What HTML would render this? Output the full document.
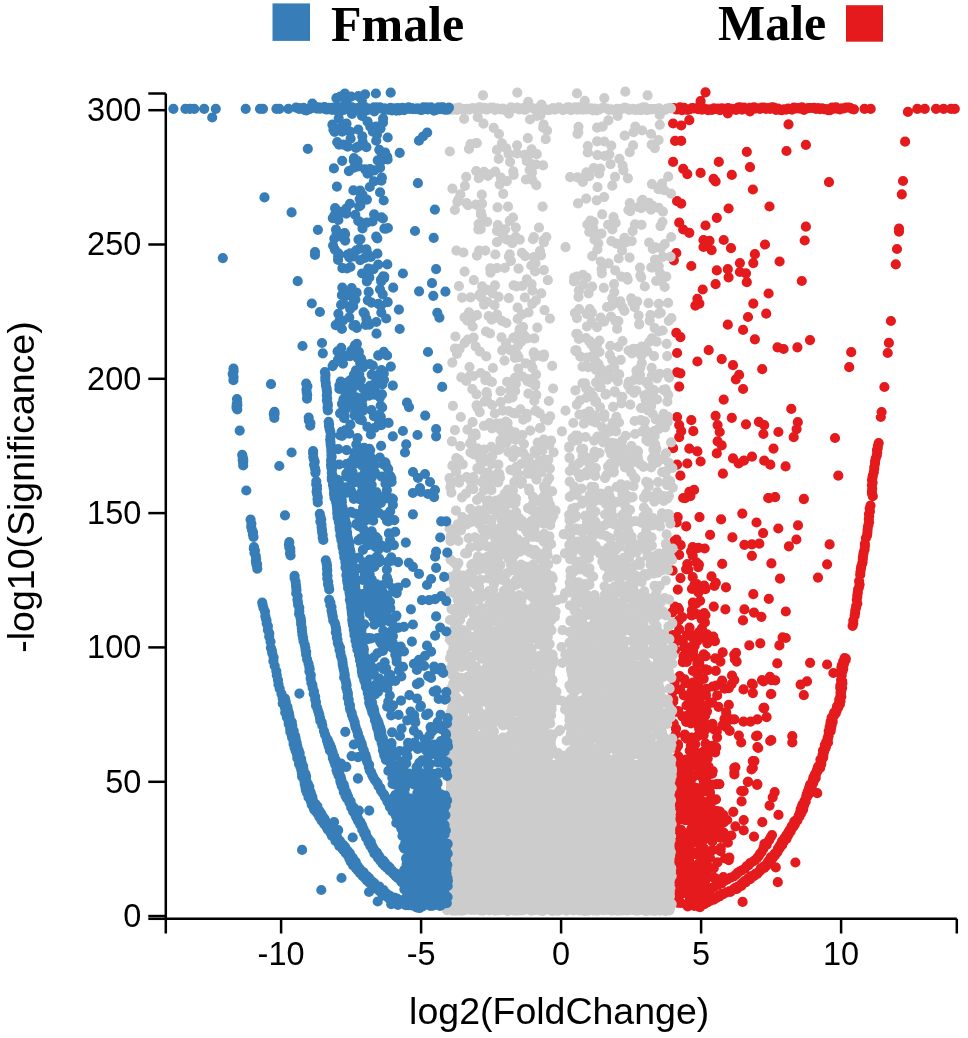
<!DOCTYPE html>
<html><head><meta charset="utf-8"><style>
html,body{margin:0;padding:0;background:#fff;}
svg{display:block;will-change:transform;}
.t{font-family:"Liberation Sans",sans-serif;font-size:32.5px;fill:#000;}
.tt{font-family:"Liberation Sans",sans-serif;font-size:37.5px;fill:#000;}
.lg{font-family:"Liberation Serif",serif;font-size:50px;font-weight:bold;fill:#000;}
</style></head><body>
<svg width="968" height="1038" viewBox="0 0 968 1038">
<path d="M674 108h0M676 109.4h0M678 109.3h0M680 107.3h0M682 110.1h0M684 107.9h0M686 109.6h0M688 109.9h0M690 109.1h0M692 108h0M694 108.4h0M696 108.5h0M698 109.2h0M700 109.2h0M702 109.6h0M704 108.7h0M706 109.1h0M708 110.1h0M710 109.3h0M712 110h0M714 108.3h0M716 109h0M718 108.7h0M720 110.2h0M722 108.4h0M724 109.3h0M726 108.5h0M728 108.2h0M730 108.7h0M732 109.4h0M734 109.2h0M736 109.8h0M738 107.6h0M740 107.3h0M742 109.6h0M744 107.6h0M746 109h0M748 109.1h0M750 107.8h0M752 109.4h0M754 107.3h0M756 108.5h0M758 108.4h0M760 108.8h0M762 107.5h0M764 107.6h0M766 108.9h0M768 108h0M770 108.9h0M772 107.4h0M774 107.6h0M776 109.9h0M778 108.5h0M780 109.8h0M782 110.2h0M784 109.4h0M786 109.6h0M788 108.7h0M790 109.2h0M792 109.7h0M794 107.6h0M796 108.5h0M798 108.2h0M800 108.7h0M802 107.4h0M804 109.8h0M806 108.6h0M808 108.2h0M810 108h0M812 108h0M814 107.9h0M816 108.8h0M818 108h0M820 109.1h0M822 108.3h0M824 109.1h0M826 109h0M828 110.2h0M830 110.1h0M832 107.5h0M834 108.6h0M836 107.3h0M838 108.9h0M840 109.3h0M842 108.3h0M844 108.3h0M846 107.6h0M848 107.5h0M850 107.9h0M852 109h0M854 109.3h0M864.5 108.8h0M870.7 108.8h0M917.3 108.8h0M924.8 108.8h0M936 108.8h0M943.6 108.8h0M951 108.8h0M954.8 108.8h0M907.9 111.9h0M699.1 906.9h0M700.4 905h0M703.4 904.1h0M705.7 901.8h0M708.8 900.6h0M711.9 898.1h0M715.3 897.1h0M719.2 895h0M722.4 893.8h0M726.6 892.3h0M729.7 891.2h0M733.6 889.1h0M735.7 887.7h0M737.9 886.7h0M740.4 885.7h0M741.4 883.9h0M743.3 883.4h0M744.5 881.2h0M746 880.6h0M748 878.5h0M750.6 876.3h0M752.8 875.6h0M755.7 873.5h0M758.9 871.5h0M760.7 868.7h0M762.8 867.2h0M765.4 865.4h0M767.7 862.4h0M769 860.3h0M770.9 857.2h0M773.6 855.5h0M774.7 853.5h0M776.9 851.6h0M777.8 848.8h0M779.4 846.4h0M780.5 844.6h0M782.1 841h0M784.4 838.2h0M786.3 835.3h0M788 832.8h0M788.7 831.6h0M790.1 829.3h0M791.8 826.1h0M793.7 824.2h0M794.2 821.6h0M796.2 820.2h0M798.6 815.8h0M800 812.7h0M800.7 811.2h0M800.7 809h0M801.8 806.5h0M802.4 804.7h0M804.4 801h0M806.2 796.7h0M806.7 794.4h0M807.7 791.6h0M808.9 788.4h0M810.1 784.7h0M812.3 782.1h0M812.9 779.5h0M813.5 777h0M815 774h0M816.9 770.2h0M818 768.6h0M817.7 767.7h0M818 766.8h0M818.2 766.6h0M818.8 766.6h0M820 764.3h0M820.4 759.6h0M822.2 757h0M822.6 754.7h0M823 750.6h0M824.9 747.9h0M824.8 745h0M826.2 742.1h0M827.6 738.2h0M828.3 735.8h0M828.7 731.1h0M829.6 727.1h0M830.3 724.9h0M830.4 723.7h0M830.7 721.4h0M831.9 719.2h0M831.6 717.5h0M833.2 715.5h0M834.1 712.7h0M836.4 709.7h0M837 706.4h0M838.8 703.3h0M839.2 699.6h0M840.4 696.2h0M840.5 692.5h0M840.8 690h0M840.2 687.8h0M840.3 685.5h0M841.2 682.6h0M841.1 679.9h0M841.4 674.9h0M841.2 670.5h0M841.4 667.6h0M841.9 665.2h0M843.2 663.3h0M843.2 661.3h0M844.6 659.4h0M844.6 658.1h0M700 907.1h0M701.7 905.4h0M704.3 904.1h0M707.4 902.3h0M710.1 901h0M713.8 899.6h0M716.7 897.9h0M719.6 896.3h0M723.2 894.2h0M726.9 892.2h0M730.4 891.9h0M733.8 889.4h0M736.9 889h0M739.7 886.6h0M741.3 885.9h0M742.2 884.3h0M743.9 882.9h0M745.6 882.5h0M747.6 880.1h0M750.1 879.2h0M752.4 877h0M754.2 876h0M757.3 873.8h0M759.5 871.4h0M761.5 869.4h0M764.4 867.8h0M766.3 865.8h0M768.6 862.5h0M771 860.7h0M772.8 857.9h0M774.6 855.7h0M776.3 853.3h0M777.3 852.2h0M778.6 849.6h0M780.2 847.3h0M782.2 844.9h0M783.6 841.9h0M786.5 838.8h0M787.8 835.8h0M788.7 834.2h0M790.6 831.4h0M791.5 829.1h0M793.4 826.7h0M794.8 824.5h0M795.4 822.7h0M797.4 820.4h0M799.5 816.4h0M800.9 813.7h0M802.1 811.2h0M803.1 809.6h0M803.5 807h0M804.3 804.5h0M805.7 801.6h0M807 797h0M808.6 794.3h0M809.8 791.5h0M810 788.7h0M811.8 786.1h0M813.2 782.9h0M814.5 779.7h0M815.7 778h0M815.8 775.2h0M817.6 771h0M818.7 768.3h0M819.4 767.8h0M819.9 767.6h0M820.1 768h0M819.5 767.4h0M821.3 764.1h0M821.6 760.3h0M823.2 757.6h0M823.4 755h0M824.2 751.3h0M825.6 748h0M826.2 745.5h0M828 742.5h0M827.9 738.9h0M828.6 736h0M830.6 731.2h0M831 728.6h0M831.6 725.5h0M831.7 723.6h0M832.6 722h0M832.6 720.9h0M832.7 717.5h0M834.2 715.3h0M835.8 713.2h0M836.7 710.5h0M838.3 707.3h0M839.9 704.2h0M840.5 701h0M841.3 696.5h0M841 694.1h0M841.3 691h0M842.1 687.9h0M841.7 686h0M842.4 683.2h0M842.2 681.1h0M841.7 675.6h0M842.4 671.6h0M843.2 668.9h0M843.5 665.3h0M844 663.6h0M844.6 661.5h0M845.6 660h0M845.8 658.7h0M852.6 625.8h0M853.3 623.4h0M853.3 620.5h0M854.7 615.7h0M855.1 613h0M855.3 610.3h0M856 607.8h0M856.2 605.9h0M857.3 603.5h0M856.8 599.8h0M857.3 597.1h0M857.3 595.4h0M857.8 592.4h0M858.1 589.3h0M858.9 587.5h0M859.6 584.6h0M859.1 581.2h0M860.2 574.7h0M860.4 572.2h0M860.9 568.7h0M861.2 566.7h0M862.2 563.5h0M862.6 562.1h0M862.8 559h0M862.9 557h0M863.3 554.3h0M863.8 551.8h0M864.6 549.3h0M864.9 545.9h0M864.9 543.9h0M865.9 538h0M867 535.4h0M867.4 532.8h0M867.6 529.8h0M867.9 526.8h0M868.4 524.9h0M869.1 522.2h0M868.8 519.2h0M869.2 516.3h0M869 514h0M869.9 511.4h0M869.7 508.4h0M870.5 505.5h0M872.8 496.2h0M872 493.4h0M871.9 491.3h0M872.2 488.5h0M871.9 485.2h0M872.6 482.6h0M872 480.1h0M872.5 477.4h0M872.9 475.4h0M873.8 472.2h0M874.2 469.1h0M874.3 467h0M875 463.4h0M875.1 461.2h0M875.7 458.6h0M876.8 455.3h0M877.2 452.6h0M877 449.9h0M877.7 448.2h0M877.9 445.9h0M878.7 443h0M698.4 896.5h0M700 894h0M702.4 893.6h0M704.6 892.2h0M707.7 890.2h0M710.3 888.8h0M712.3 887.7h0M715 886h0M718 884.9h0M720.4 883.4h0M721.6 883.3h0M724.5 880.8h0M727.1 879.7h0M728.9 878.5h0M730.8 877.7h0M733.7 876.4h0M736 874.7h0M737.6 872.9h0M739.6 871.5h0M741.8 870.4h0M744.8 868.5h0M746.5 866.4h0M748.6 865.1h0M750.1 863.2h0M753.1 861.5h0M755.1 860.1h0M757 858.2h0M758.6 856.2h0M760.1 853.7h0M761.5 852h0M763.2 849h0M763.9 846.8h0M766.6 845h0M767.1 843.1h0M769.3 839.8h0M770.8 837h0M772 835h0M705.5 92.3h0M700.6 101.2h0M673.1 123.5h0M681.2 125.5h0M689.3 120.2h0M727.8 113.3h0M750 111.3h0M788.5 124.3h0M675.1 140.9h0M681.2 140.9h0M786.5 151h0M805.9 144.9h0M905.1 141.7h0M746.8 151.8h0M673.1 161.9h0M718.8 161.9h0M750 167.2h0M683.2 168.8h0M687.3 174.1h0M700.6 172.9h0M713.6 178.9h0M715.6 181.4h0M731.8 174.9h0M829 182.2h0M903 181h0M752.9 189.5h0M901.8 194.3h0M677.1 201.2h0M681.2 203.6h0M769.5 206.5h0M728.6 208.5h0M716.8 217.8h0M705.5 225.5h0M679.2 222.7h0M683.2 229.5h0M689.3 232.8h0M805.9 226.7h0M804.7 240.5h0M899 228.7h0M899 231.6h0M703.5 240h0M709.5 240.9h0M703.5 247h0M711.6 250.2h0M723.7 240h0M731 248.2h0M765 244.5h0M897 249h0M676.3 253h0M673.9 260.3h0M754.9 254.2h0M739.9 263.1h0M753.3 263.1h0M779.6 261.5h0M895.8 264.4h0M691.3 266h0M716.8 270.4h0M727.8 269.2h0M728.6 277.3h0M739.9 272h0M746 273.3h0M746.8 282.2h0M715.6 284.2h0M801.8 281h0M702.7 289.5h0M697.4 298.8h0M695.4 305.6h0M699.4 303.6h0M768.6 293.5h0M753.3 303.6h0M766.2 313.7h0M748 317h0M727.8 324.7h0M743.1 329.9h0M754.9 339.3h0M890.9 321h0M676.3 332.8h0M680.4 337.2h0M777.5 347.3h0M783.6 349h0M797.4 347.3h0M810 340.1h0M888.9 342.9h0M887.7 353h0M851.2 352.2h0M849.2 367.2h0M677.1 353h0M708.7 350.2h0M697.4 361.5h0M721.7 359.1h0M733 365.2h0M739.1 374.9h0M735.9 379.3h0M743.1 389h0M762.2 369.2h0M677.1 372.4h0M680.4 373.3h0M679.2 386.6h0M723.7 399.6h0M884.4 387h0M791.3 408.9h0M881.6 412.1h0M880.8 417h0M677.1 417h0M679.2 425.1h0M681.2 431.2h0M679.2 437.2h0M691.3 420.2h0M693.3 431.2h0M715.6 415.8h0M717.6 425.1h0M719.7 432h0M717.6 441.3h0M721.7 445.3h0M731.8 417.8h0M746 424.3h0M758.9 421.8h0M764.2 425.1h0M763.4 434h0M778.4 432h0M797.8 422.2h0M796.6 429.1h0M793.7 437.2h0M773.5 448.6h0M835 438h0M673.1 448.2h0M689.3 448.6h0M697.4 451.4h0M677.1 464.7h0M687.3 463.5h0M700.6 461.5h0M716.8 453.4h0M733 458.3h0M738.7 463.5h0M743.9 460.7h0M752 456.7h0M764.2 460.7h0M770.3 464.7h0M785.6 466.4h0M680.4 475.7h0M722.9 473.7h0M838.3 475.7h0M683.2 498h0M689.3 491.9h0M694.1 489.9h0M768.2 498h0M775.1 497.2h0M803.9 498.8h0M685.1 498.2h0M690.4 496.1h0M768.8 498.2h0M775.2 497.1h0M803.8 499.2h0M742.3 513.6h0M699.5 517.2h0M721.1 519.4h0M677.7 517.2h0M676.7 522.5h0M686.2 526.4h0M756.5 522.5h0M763.1 533.1h0M778.3 528.5h0M798 525.3h0M710.1 534.8h0M732.4 537.4h0M796.4 539.5h0M744.4 544.8h0M751.9 544.4h0M759.3 543.7h0M788.9 546.3h0M829.6 544.4h0M674.5 541.2h0M751.9 555.8h0M722.2 563.9h0M771.4 563.4h0M827.1 564.3h0M780 578.7h0M818 577.6h0M715.8 582.9h0M726 587.4h0M753.3 594.2h0M768.8 598.8h0M725.4 609.4h0M744.4 609.4h0M754 612.6h0M761.4 616.8h0M743 620.4h0M785.8 611.5h0M713.3 636.5h0M782.6 637.4h0M785.8 638h0M779.4 645.4h0M749.3 645.4h0M760.3 643.3h0M694.7 645.8h0M777.3 663.4h0M810.1 662.8h0M827.1 664.5h0M833.4 673h0M736 652.8h0M734.9 659.2h0M800.6 684.6h0M807 681.4h0M803.8 695.2h0M770.9 694.2h0M751.9 683.6h0M752.9 693.1h0M763.5 681.4h0M769.9 676.8h0M775.2 680.4h0M763.5 707.9h0M734.3 654.7h0M736.6 661.6h0M732 675.5h0M734.3 680.1h0M743.5 689.4h0M752.8 684.7h0M762 680.1h0M771.3 680.1h0M771.3 694h0M764.3 707.8h0M766.6 717.1h0M757.4 719.4h0M750.5 721.7h0M743.5 721.7h0M734.3 719.4h0M727.4 719.4h0M729.7 730.9h0M738.9 735.6h0M741.2 742.5h0M757.4 735.6h0M771.3 740.2h0M757.4 747.1h0M752.8 761h0M752.8 767.9h0M748.2 781.8h0M757.4 784.1h0M741.2 791h0M734.3 767.9h0M734.3 772.5h0M722.7 652.4h0M720.4 661.6h0M715.8 670.9h0M764 708.3h0M756.1 736.2h0M770.2 741h0M792.3 736.2h0M792.3 742.4h0M758.2 748h0M754.4 761.1h0M751.5 769.4h0M735.4 767.3h0M734.4 774.5h0M747.8 781.8h0M757.1 784.9h0M774.7 792.1h0M772.7 797.3h0M769.6 805.6h0M778.5 814.9h0M817.2 793.2h0M743.7 791.1h0M741.6 801.4h0M733.3 811.8h0M762.3 822.2h0M743.7 820.1h0M735.4 826.3h0M743.7 830.4h0M754 836.6h0M764.4 843.9h0M795.4 862.5h0M775.8 867.3h0M777.8 882.2h0M742.6 901.9h0M676.5 539.7h0M678.1 544.4h0M680.7 545.2h0M692.6 547h0M698.4 547.8h0M704.7 548.5h0M679.2 554.8h0M691.1 551.4h0M692.7 555.7h0M696.4 562.4h0M687.3 564.1h0M698.9 564.7h0M672.6 570.7h0M686.1 569.1h0M688.3 569.5h0M698.3 567.1h0M680.5 578.1h0M692.7 577.2h0M711.5 576.4h0M694.4 584.8h0M695.6 584.6h0M696.8 584h0M704.2 585.5h0M714.4 585.9h0M677.8 589.6h0M692 588.9h0M697.1 590.2h0M705.4 589.1h0M698.5 592.5h0M692.9 602.5h0M700.1 600.8h0M674.9 606.7h0M693.1 603.8h0M696.4 603.5h0M713.8 606.6h0M679 609.7h0M678.1 607.8h0M691.9 610.2h0M672.2 612.3h0M693.7 611.9h0M697.6 614.3h0M704.2 613h0M682.2 617.1h0M691.6 615.4h0M705.5 615h0M679 620.1h0M701.7 619.2h0M704.9 622.4h0M679.2 629.4h0M689.5 627.7h0M701.9 628.3h0M689 633.2h0M697.2 634.3h0M699.1 632.1h0M699.1 632.2h0M700.8 632.5h0M707 634.3h0M672.3 635.1h0M678.2 638.8h0M687 635.2h0M689 635.7h0M693.1 637.3h0M694 638h0M703.2 637.4h0M706.1 635.1h0M682.8 641.7h0M694.3 642.3h0M697.4 641h0M714.9 641.2h0M673.8 644.1h0M707.3 643.3h0M675 650.2h0M684.3 647.8h0M686.7 647.3h0M686.5 652.7h0M685.5 653.9h0M693.1 651.3h0M703.7 654.3h0M683.5 656.1h0M694.5 657.1h0M705.7 656.1h0M715.3 658.4h0M682.9 662.2h0M682.9 661.7h0M686.8 661.8h0M699.3 662.5h0M697.3 663.9h0M692.9 670.9h0M707.7 670.2h0M705.5 669.3h0M697.8 672.5h0M697 673.6h0M679.7 676h0M703.7 678.8h0M674.8 681.6h0M684.6 679.4h0M693.1 682.6h0M699.6 680.9h0M722.1 680.6h0M674.6 686.9h0M685.5 683h0M688.7 683.6h0M698.5 683.6h0M712.8 686.5h0M716.4 685.5h0M731.6 684.1h0M680.1 689.7h0M697.5 687.6h0M706.5 688.9h0M706.6 689.1h0M724.6 688.7h0M728.8 688.2h0M672.6 691.8h0M691.9 691.6h0M689.6 694.4h0M691.5 691.7h0M698.9 692h0M698.9 692.6h0M683.9 695.4h0M689.4 699h0M693.7 695h0M701.7 695.5h0M706 695.2h0M717.2 695.4h0M673.2 701.7h0M673.4 699.4h0M692.3 700.5h0M692.8 700.3h0M699.3 699.1h0M712 702.6h0M710.3 702.6h0M686.5 705.5h0M697.7 706.3h0M703.6 705.2h0M702 705.9h0M718.5 706.8h0M728.8 704.9h0M672.3 708.6h0M691.7 710.7h0M701.1 708.6h0M675.9 711.9h0M678.3 711.2h0M700.1 713h0M702.3 712.3h0M707 711.3h0M726.2 712.4h0M682.3 716.3h0M684.5 716.4h0M688.3 715.3h0M695.3 715.9h0M692.2 717.1h0M696.4 715.8h0M705.2 715.6h0M724.5 718.9h0M686.1 721.8h0M686.2 719.9h0M700.9 720.6h0M703.7 720h0M731.4 719.4h0M673.7 723.6h0M691 723.3h0M699.7 725.9h0M698.7 726h0M698.8 725.3h0M696.8 723.5h0M708.4 726.5h0M712.5 723.9h0M722.7 725.1h0M676 728.7h0M699.2 729h0M705.3 729.8h0M714.1 729.5h0M726.3 727.2h0M675.6 734.5h0M684.8 734.6h0M701.2 734.5h0M716.8 731.4h0M687.1 738.9h0M685.3 737.1h0M691.5 737.6h0M697.7 736.2h0M698.4 735.6h0M703.6 735.2h0M717.1 737.3h0M672.9 743.9h0M678 745.7h0M678 744.3h0M690.8 745.8h0M695.2 744.2h0M705.6 743.7h0M712.4 745.9h0M672.1 747.5h0M676.7 747.8h0M689.7 750.5h0M693.3 747.2h0M716.2 747.4h0M694.4 754.3h0M693.8 752.2h0M700.5 753.1h0M703.2 751.8h0M703 754.9h0M703.8 753.6h0M708.6 751.9h0M715.2 752.3h0M678.4 756.4h0M691.3 756.8h0M694.8 758.8h0M695 756.1h0M707.3 755.8h0M707.7 758.6h0M673 760.5h0M674.8 759.4h0M672.9 760.2h0M679.2 759.5h0M677.3 761.6h0M679.1 762.4h0M680.6 761.1h0M686.3 759.7h0M703.4 759.6h0M702.8 760.1h0M680.6 765.2h0M687.9 766.4h0M687.5 763.6h0M692.7 764.9h0M700.7 766.5h0M708.6 766.7h0M672.8 767.1h0M681.9 770.7h0M680.3 768.5h0M687.1 769.1h0M697.9 767.8h0M701.8 768.9h0M700.3 769h0M707.4 768.6h0M677.1 771.6h0M681.6 773.9h0M683.8 771.9h0M683.1 773.7h0M684.5 772.1h0M688.7 771.8h0M702.3 771.7h0M712.1 773.6h0M712.7 771h0M679.6 775.2h0M681 775.4h0M683.8 776.1h0M683.8 777.1h0M687.3 777.9h0M691.6 777.2h0M693.8 776.4h0M701.8 776.2h0M702.4 777.6h0M705.9 778.8h0M707.5 775.6h0M690.7 781h0M703.9 782.5h0M705.2 779.7h0M677.6 783.4h0M687.8 785.7h0M684.7 783.2h0M689.7 783.8h0M708 784.9h0M712.9 784.7h0M719.4 784.1h0M716.8 784.2h0M672.8 790.8h0M673.8 790.8h0M677.7 787.1h0M680.9 787.1h0M689.1 789.8h0M688.5 789.5h0M695.7 787.8h0M695.5 788.8h0M702.5 787.8h0M700.8 788h0M707.1 789h0M705.2 789.2h0M675 793.9h0M673.8 794.1h0M681.5 794.5h0M684.1 791.1h0M684 793h0M692.9 791.4h0M696.3 792.3h0M696.9 791.7h0M700.5 793h0M705.5 791.4h0M710 792.4h0M675.2 798.2h0M681.9 798.1h0M687.8 795.1h0M694.2 797.2h0M696.5 798.9h0M672.5 802.7h0M674.9 801.2h0M679.5 802h0M681.7 802.4h0M690.1 799.2h0M699.6 800h0M696.4 799.2h0M698 799.1h0M702.1 801.4h0M707.7 802.4h0M708.2 802h0M709.2 800.8h0M714.3 800.1h0M716 799.3h0M683 803.9h0M684.2 806.2h0M687.6 806.9h0M689.8 806.1h0M704 805.9h0M677.5 810h0M679.7 810.8h0M680 810.6h0M687.4 807.7h0M688.4 808.6h0M695.1 808.9h0M697.2 807.4h0M712.2 809.5h0M713.1 810.1h0M672.3 814.6h0M680.9 813.3h0M681.4 813.8h0M690.4 814.1h0M693.8 814.5h0M695.2 813.8h0M694.1 811.2h0M703.6 812.4h0M705.3 814.4h0M708 813.5h0M717 811.2h0M719.9 811.5h0M673.3 817.1h0M673.2 818.1h0M678.1 817.2h0M677.6 816.4h0M689.2 818.6h0M696.2 816.9h0M702.7 817.1h0M700.2 817.8h0M712.7 817.8h0M718.7 815.5h0M723.5 815h0M673.8 822.4h0M680.8 819.3h0M685.2 820.2h0M691.8 822.7h0M701.1 821h0M707.4 819.3h0M723.8 822.4h0M727.2 820h0M675.1 825h0M692.8 825.9h0M701.7 826.4h0M703.2 825.8h0M713.2 825.5h0M714.1 825h0M712.3 825.8h0M716.8 824.2h0M681.1 829.9h0M691.4 828.5h0M699.1 830.1h0M696.2 829.5h0M707.3 830.4h0M717.7 829.4h0M719.7 827.9h0M680 831.7h0M684.5 833.9h0M689.8 833.6h0M690.4 834.1h0M688.8 832.5h0M695.7 834.5h0M693.5 831.9h0M700.7 831h0M706 833.3h0M715.2 833.1h0M723.7 832.5h0M675.7 837.3h0M679.8 838.8h0M679.1 836.8h0M680.5 835.1h0M687.9 838.6h0M687.8 836h0M691.1 835.5h0M695.8 837.7h0M695.4 837.9h0M693.8 837.9h0M698.2 838.2h0M696.1 839h0M698.3 837.6h0M697.7 836.8h0M702 835.3h0M708 838.3h0M720.8 837.9h0M724.3 837.2h0M731.4 835.5h0M679 841.5h0M682.7 839.1h0M682.7 839.9h0M681.2 841.2h0M687.2 842.9h0M692 840.3h0M688.6 840.4h0M689.2 842.3h0M690.6 839.1h0M694.6 841.1h0M692.9 842.4h0M698.6 841.6h0M712.3 841.4h0M727.8 842.7h0M673.1 846h0M676.8 843.3h0M682.1 843.3h0M700.3 846.3h0M701.8 843.3h0M673.1 847.2h0M681.6 848.2h0M682.1 848.3h0M686.6 849.6h0M686.5 847.1h0M684.7 850.6h0M690.3 850.6h0M702.7 849.3h0M704.1 848.5h0M712.5 850.1h0M720.7 848.7h0M720.5 848.2h0M678.8 854.3h0M676.4 853.3h0M680.9 851.5h0M687.7 853.7h0M692.4 852.1h0M696.3 854.4h0M698.3 851.6h0M701.7 852.4h0M701.2 851.9h0M703.8 853h0M706.4 853.6h0M708.4 854.8h0M720.5 851.2h0M673.7 857.6h0M685.2 855.4h0M702.2 855.5h0M700.3 856.3h0M706.2 856.1h0M705.3 856h0M710 857.9h0M725.1 858.3h0M726.2 858.6h0M729.4 857.5h0M675.5 860.3h0M680.6 860.8h0M681 861.2h0M685.9 859h0M685.1 862.2h0M687.3 861.5h0M689 859.4h0M705 861.2h0M717.5 862.3h0M728.8 860.2h0M677.3 864.2h0M681.7 864.9h0M686.7 864.8h0M689.5 864.1h0M689.7 863.1h0M690.4 866.6h0M697.4 864.7h0M702.7 866.9h0M707.8 866h0M680.4 868.8h0M680.7 871h0M682 868.9h0M684 868.4h0M708 869.5h0M705.7 869.4h0M713.8 868.1h0M675.9 874.8h0M673.1 871.5h0M674.1 872.6h0M676.3 873h0M676.8 874.7h0M680 871.8h0M694.1 873.6h0M701.6 872.7h0M703.9 873h0M706.5 874.9h0M677.9 875.4h0M678.2 878h0M686.4 875.4h0M687.3 876.4h0M688.3 878.4h0M690.8 878.4h0M702.2 877.6h0M702.1 878.9h0M713.9 877.6h0M715.9 878.6h0M723.4 877.1h0M674.2 882.7h0M684.1 882.4h0M687.3 881.3h0M685.4 880.6h0M691.5 880.1h0M695.7 880.2h0M698.7 881.8h0M703.7 879.3h0M705.5 880.2h0M679.4 884.5h0M676.1 886.1h0M681.3 884.7h0M680.4 885.3h0M686 884.2h0M691.5 886.5h0M695.5 885.3h0M700.1 883.3h0M680.6 890.9h0M685.3 887.3h0M686.1 888.3h0M689.8 889.1h0M690.2 890.9h0M690.6 888.6h0M696.6 889h0M703.9 887.6h0M683 893.3h0M687.6 893.6h0M694.9 892.1h0M698.7 894.8h0M698.3 894h0M701.1 893.5h0M672.7 895.4h0M679 896.3h0M678 895.5h0M678.8 895.2h0M691.3 898.9h0M694.1 896.6h0M694.4 896.4h0M694.9 898.4h0M698.5 895.5h0M677.5 902.7h0M680.4 902.9h0M680.4 902.6h0M691.2 902.7h0M690 899h0M696 902.7h0M694.8 899.9h0M693.6 902.8h0M686 904.3h0M687.7 906.5h0M694.2 906h0" stroke="#e41a1c" stroke-width="10.2" stroke-linecap="round" fill="none"/>
<rect x="446" y="760" width="225" height="151" fill="#cccccc"/>
<path d="M508.9 113.6h0M537 115.8h0M540.5 115.1h0M617.7 115.9h0M660.1 113.5h0M659.7 115h0M464.1 118.8h0M477.7 117.2h0M530 119.5h0M483.5 123.7h0M608.4 120.4h0M493.7 127.8h0M543.2 127.7h0M543.6 124.6h0M543.9 127.4h0M578.5 126.8h0M597.1 127.7h0M602.6 126.7h0M635.3 126.5h0M659.8 124.8h0M547.1 130.6h0M642.2 130.5h0M499 134h0M578.3 132.1h0M577.5 133.8h0M624.7 135.7h0M633.6 132.1h0M651.1 134h0M527.8 138.1h0M545.7 139.2h0M476.8 143.2h0M476.2 143.2h0M502 143.3h0M597.1 141.4h0M604.3 141.5h0M658.6 140.1h0M470.5 144h0M517.1 145.3h0M587.8 146.1h0M611.3 145.7h0M633.1 145.4h0M651.7 144.6h0M449.8 151.5h0M469 148.9h0M496.9 149.9h0M506.3 148.4h0M531.6 149.4h0M654.8 148.1h0M508.6 153.9h0M516.9 153.4h0M524.7 154.9h0M528.3 155.7h0M536.8 154.2h0M587.8 152.5h0M597.4 155.2h0M609.4 154.3h0M629.7 152.2h0M498.7 158.9h0M604.6 156h0M619.4 158.9h0M510.1 161.9h0M526.8 161.2h0M532.7 164.3h0M536.2 164.5h0M543.1 165.4h0M610.5 164.2h0M622.7 165.7h0M476.2 171.1h0M484 171.9h0M495.2 171.6h0M513.2 171.3h0M529.6 170h0M593.7 168.2h0M600.3 168.6h0M623.4 170.3h0M488 175.8h0M489.2 174.4h0M513.7 174.9h0M532 172.4h0M586.5 172.3h0M585.7 175.4h0M599.2 173.7h0M466.2 176.8h0M478.8 178.2h0M500.9 177.7h0M525.9 179.5h0M532.3 179.9h0M570.1 177.1h0M577.4 177.3h0M589.2 176.2h0M615 176.8h0M627.9 178.3h0M668.2 176.7h0M506.8 181.2h0M582.8 181.9h0M662 183.6h0M464.9 185.8h0M499.7 184.3h0M536.3 185.2h0M597.5 187.1h0M612.3 185.7h0M651.9 184.1h0M452.4 188.6h0M659.2 189.1h0M658.5 189.2h0M664.1 190.1h0M460.4 194.4h0M481.8 194.7h0M503.2 193.8h0M670.9 193.6h0M458.3 199.6h0M586.2 198.6h0M604.1 197.1h0M642.6 199.9h0M457.4 201.8h0M466.6 203.1h0M482.1 203.7h0M578 203.4h0M596.7 200.3h0M629.8 203.2h0M641.7 200.8h0M649.1 202.8h0M468 205.2h0M475.9 204.7h0M497.5 207.4h0M508 206.7h0M542.6 206.6h0M638.6 207.1h0M652.7 205.8h0M658.8 207.8h0M454.9 210h0M628.4 210h0M630.2 211.1h0M641.3 208.1h0M651 209.7h0M662.9 211.6h0M480.9 212.2h0M481 214.7h0M481.8 215.6h0M602.2 214.4h0M513 217.5h0M613.5 217.2h0M478.6 224h0M487.2 221.8h0M509.7 220.9h0M590.4 220.6h0M593.5 221.9h0M615.7 222.9h0M662.5 222h0M497.8 225h0M515.8 227.6h0M539 227.6h0M587.4 224.5h0M608.1 224.8h0M635 224.4h0M641.5 224.8h0M660.5 226.1h0M478.3 229.3h0M480.7 229.1h0M497 230.8h0M505.2 229.3h0M589.2 232h0M593.2 228h0M612.3 229.5h0M632.6 231.1h0M502.6 234.7h0M595.2 233.1h0M601.5 233.6h0M506.4 239.4h0M508.2 239.8h0M515.6 236.9h0M519.8 239.7h0M533 239.2h0M533.8 237h0M546.4 237h0M594.5 239.7h0M624.4 237.9h0M671.2 237h0M497 242.2h0M512.3 243.1h0M543.6 240.1h0M543.9 242.3h0M598.3 243.4h0M611.4 241.1h0M616.5 243.7h0M624.6 241.9h0M625.8 242.5h0M631.7 241.1h0M649.1 242.5h0M565.5 247.2h0M655.3 247.4h0M664.7 244.2h0M456.4 250.7h0M479.1 250.5h0M485.3 250.6h0M540 251.1h0M597.4 249.5h0M622.1 250.6h0M652.8 248.9h0M660.8 248.2h0M463.4 252.5h0M477 255.6h0M495.3 254.5h0M509.7 254.3h0M521.9 252.9h0M541 255.3h0M508.9 256.6h0M525.2 256.1h0M533.8 257.1h0M592.3 256.2h0M618.7 258.5h0M629.6 257.6h0M655 259.7h0M662.9 256.8h0M670.6 256.9h0M510.9 260.8h0M535.5 263.5h0M600.8 261.5h0M608.6 263.3h0M504.8 267.8h0M531.3 265.5h0M640 267.5h0M651.3 267.3h0M652.2 267.6h0M658.8 266h0M464.6 271.6h0M490.3 268.4h0M497 268.2h0M518.5 268.7h0M535 271.4h0M543.9 270.1h0M601.6 269.2h0M615.2 270.3h0M490.6 272.6h0M582.9 274.8h0M601.9 273.3h0M640.4 275.4h0M660.1 273h0M526.8 279.3h0M576.9 276.6h0M574.2 277.6h0M586.6 277.6h0M621.2 276.6h0M626.8 277.1h0M627.7 279.6h0M641.2 277.3h0M666.3 276.6h0M473.8 280.1h0M531.6 284h0M547.8 280.2h0M574 281.4h0M656.1 281h0M661 281.1h0M458.9 286.2h0M482.1 286.4h0M494.9 285.4h0M516.7 286.4h0M513.6 285.3h0M522.4 285.9h0M583.1 284.8h0M592.2 286.6h0M603.8 287.8h0M614 284.2h0M644.8 286.5h0M664.7 287h0M487 289.9h0M532.4 290.7h0M578.9 290.4h0M479.1 295.5h0M479.7 294.4h0M492.8 293.5h0M541.3 293.4h0M588.6 293.3h0M614.3 292.1h0M462.1 297.6h0M470.5 297.3h0M481.6 297.6h0M498.6 296.8h0M508.8 298.2h0M524.8 297.5h0M578.5 296.8h0M612.2 298.1h0M631.2 298.3h0M487.5 302h0M532.2 303.9h0M535.9 300.3h0M617 302.6h0M620.3 301.4h0M632.5 302.6h0M634.1 301.3h0M634.9 303.3h0M637.3 301.6h0M648.5 303.2h0M658.8 303.9h0M668.1 302.8h0M484 304.6h0M494.5 305.2h0M517.6 307.7h0M607 307h0M612.4 304.6h0M611 305.9h0M622.6 307.3h0M634.8 307.2h0M544.5 310.1h0M579.1 309.2h0M589.7 309.2h0M624.4 310.8h0M469 312.3h0M477 315.2h0M497.1 314.5h0M522 314.3h0M528.5 312.4h0M574.9 313h0M586.6 313.8h0M591.9 312.6h0M638.6 315.6h0M650.4 315h0M658.7 313.7h0M660.8 313h0M464.5 317.4h0M472.6 317.3h0M488.7 316.2h0M491.7 319.7h0M496.1 317.7h0M517.7 318.9h0M549.9 318.6h0M576.9 318.1h0M600.7 317.7h0M611 316.5h0M611.3 316.8h0M671.4 318.2h0M467.3 320.6h0M501.9 320.8h0M506.4 323h0M591.6 321.8h0M604.1 321.6h0M615.3 320.8h0M618.4 321.1h0M639.2 323.8h0M649.7 320.6h0M668.8 320.8h0M472.7 326.5h0M523.1 327h0M537.3 327.6h0M586.9 326.5h0M597.1 327.2h0M639.2 324.5h0M486 331.5h0M519.6 329.2h0M617.1 328.9h0M654.7 328.1h0M658.9 331.3h0M662.7 330.5h0M490 333.5h0M517.3 335.9h0M524.5 335.5h0M576.3 333.8h0M577.6 334.2h0M455.4 336.5h0M467.8 339.6h0M473.6 337.5h0M501.5 337.3h0M513.3 337.8h0M527.3 338.5h0M534.3 338.4h0M578.9 338.9h0M586.1 338.1h0M651.8 338.4h0M464.7 342.9h0M505.9 343.2h0M521.2 341.7h0M589.4 341.5h0M589.8 341h0M599.5 340.5h0M622.5 341.2h0M649.2 342h0M656.6 341.7h0M666.7 343.8h0M475.6 346.3h0M518.2 345.3h0M591.5 344.5h0M594 347.8h0M597.1 344.2h0M610.3 345.9h0M618.4 346.8h0M641.8 346.5h0M455 348.7h0M459.6 348.8h0M480 351.7h0M502.2 350.4h0M510.8 350.6h0M511 349.8h0M575.3 350.4h0M575.9 351.2h0M576.5 350.4h0M599.5 352h0M628.6 350.5h0M631.4 350.2h0M633.4 348.9h0M638.1 349.9h0M637.9 348.8h0M647.4 351.4h0M457 354h0M516.9 354.3h0M533.8 352.3h0M533.6 352.9h0M540.5 355.7h0M544.1 354.7h0M609.9 355.2h0M632 353.5h0M641.4 355.7h0M486.3 356.4h0M514.9 357.9h0M518.6 357.2h0M534.8 356.4h0M543.5 356.9h0M541.2 356.1h0M580.3 356.7h0M587 357.7h0M591.6 356.6h0M620.7 359.8h0M654 356.1h0M667.2 356.1h0M452.3 362.6h0M504.5 360.6h0M525.8 363.3h0M595.5 360.8h0M612.2 360h0M641.8 363h0M469.5 367h0M492.9 368h0M531.2 364.7h0M532.5 367.9h0M552.2 365.9h0M582.5 366.6h0M588.2 367.2h0M596.3 366.4h0M599.5 367.9h0M598.5 364.1h0M614.2 367.2h0M640.4 367.4h0M651.7 367.8h0M518.3 368.7h0M596 369.8h0M601.3 369.1h0M609.9 369.6h0M636.4 370.7h0M638.6 370.9h0M480.7 373h0M536.1 374.6h0M600.8 374.3h0M603.5 374.1h0M618.8 374.4h0M619.2 374.4h0M640 374.7h0M637.2 373.8h0M637.9 374.9h0M659.8 373.9h0M667.5 373.1h0M461.3 377.4h0M469.7 376.2h0M473.3 376h0M486 376h0M514.9 377.9h0M522.7 376.6h0M527.7 379.1h0M533 378.7h0M599.7 377.1h0M603.5 377.3h0M607.3 379.7h0M610.1 377.3h0M634.2 379.8h0M639.6 379.9h0M637.6 377.8h0M639.3 379.1h0M651.6 376h0M656.9 378.5h0M669.1 377.7h0M466.3 381h0M485.3 380.1h0M491.9 382h0M490.3 381.4h0M507.1 381.9h0M515.9 383.7h0M527.4 381.1h0M530.9 382.6h0M535.3 383.5h0M582.5 383.4h0M585.1 383.4h0M596 382.5h0M617.8 381.3h0M628.8 381.9h0M646.2 382.2h0M514.9 384.5h0M535.2 385.6h0M599.1 387.2h0M600.7 387h0M628.2 385.3h0M628.1 385h0M648.6 384.9h0M472.3 389.2h0M500.5 391.1h0M509.9 390.2h0M515.2 390.9h0M514.4 388.2h0M553.1 388.5h0M575.4 390.3h0M587.9 390.3h0M586.3 388.4h0M590 391.5h0M614.7 391.4h0M630.7 389.9h0M631.6 390.1h0M636.4 390.5h0M654.1 390.4h0M654 390.1h0M664.3 390.4h0M663.4 389.8h0M665.6 389.4h0M476.5 394.4h0M487.1 394.5h0M486.6 392.1h0M511.3 394.6h0M528.4 393.7h0M536.3 394.8h0M536.3 395.3h0M605.5 394.7h0M606 394.2h0M605.6 394.7h0M615.2 392.4h0M634 392.8h0M644.4 395.6h0M646.6 394.4h0M652.8 394.9h0M668.2 394.8h0M508.4 398.6h0M512.5 397.3h0M586.5 397.6h0M593.1 396.2h0M622.4 396.8h0M621.6 398.2h0M657.1 399.5h0M484.7 401.6h0M487.1 400.8h0M500.7 402.2h0M534.3 400.8h0M548.8 401h0M580 400.3h0M596.1 401.1h0M595.3 402h0M621.4 403.4h0M645.7 400.2h0M650.8 402.8h0M667.4 401.7h0M452.9 405.9h0M476.6 405.4h0M492.2 405h0M576.8 404.6h0M600 407h0M613.1 406.9h0M630.3 404.6h0M651.1 406.3h0M477.6 408h0M502.7 410.6h0M508.7 411h0M520.4 409.4h0M536.3 410.9h0M535.4 410.8h0M565.5 410.7h0M589.4 411.3h0M641.3 408.2h0M641 408h0M648 410.5h0M479.7 412.1h0M494.8 413.5h0M513.2 413.2h0M515.9 413.4h0M526.8 413.9h0M539.7 413.4h0M579.4 414.6h0M585.5 413.5h0M595.3 415.5h0M604.4 414.4h0M652.7 414h0M663.7 413.9h0M460.8 417h0M523.2 419.7h0M524.2 419h0M526.5 417.8h0M544.8 419.2h0M550.2 416.4h0M587.8 416.5h0M604.1 417.4h0M616.4 416.9h0M655.7 419.4h0M655.9 419.2h0M667.9 416.5h0M472.6 422.2h0M489.7 423.2h0M496.7 423.6h0M500.5 423.6h0M505.9 421.6h0M507.6 422.8h0M548 420.3h0M573.3 423h0M583.9 423.7h0M592.2 421.1h0M595.5 422.3h0M612.7 422.9h0M619 422.5h0M634.6 421h0M640.7 420.2h0M644.9 421.3h0M661.7 422.8h0M667.7 421.8h0M483.9 425.9h0M540.6 428h0M602 427h0M611.8 425.9h0M665.2 427.3h0M454.9 430.1h0M467.5 429.7h0M492 428.3h0M501.1 430.2h0M508.1 431.6h0M509 429.5h0M530.2 430.7h0M539.9 428.2h0M561.9 431.4h0M609.8 431.7h0M610.3 429.1h0M616.1 431.3h0M644.6 428.8h0M642.3 431.6h0M654.7 430.8h0M658.9 428.9h0M475.4 433.7h0M475.7 435.4h0M503.4 433.6h0M515 432.3h0M522.3 435h0M575.6 435.5h0M577.8 435.9h0M602.2 435h0M625.6 435.9h0M635 434h0M648.9 432.7h0M648.1 432.3h0M649.2 434.4h0M654.7 435.9h0M472.8 436.8h0M505.1 437.8h0M511.1 438.1h0M543.9 439.6h0M572.5 438.3h0M576.7 439.2h0M573.9 437.8h0M585.6 437h0M597.4 436.6h0M604.4 437.7h0M652.9 437h0M451.9 441.3h0M471.5 441.7h0M470.1 443.3h0M500.4 440.2h0M500.4 441.3h0M506.4 442.9h0M515.6 440h0M537.7 442.5h0M543.6 443.1h0M551.1 440.6h0M573.8 440.8h0M577.7 440.2h0M594.2 440.7h0M602.2 440.1h0M603.5 442.4h0M605.6 441.1h0M612 442.8h0M614.5 443.3h0M622.2 440.5h0M646.3 440.2h0M648.3 441.7h0M651.1 440.7h0M671.1 442.4h0M460.3 446.1h0M491.4 446.8h0M499.7 447.6h0M524 444h0M549.4 444.9h0M569.2 446.6h0M569.2 447.7h0M614.9 446.1h0M622.3 447.9h0M631.5 446.1h0M655.2 444.3h0M473.9 451.7h0M477.3 448.3h0M484.2 449.7h0M498.8 450h0M514.3 450h0M518.8 452h0M536.9 451.4h0M534.7 450.5h0M539.5 448.5h0M542.4 450.4h0M581.1 449.4h0M583.1 448.9h0M594.6 451.7h0M609.4 449.6h0M618.4 448.8h0M637.1 450.7h0M638.1 451.4h0M653.4 449.5h0M656.3 448.7h0M655.7 451.7h0M472.4 453.5h0M470.5 452.5h0M474 454.5h0M482.6 455.8h0M508.5 452.2h0M514 455.1h0M523 452.5h0M535.2 453.1h0M553.6 452.3h0M583.5 454.5h0M582.6 455.5h0M599.4 453.2h0M611.2 454h0M618.5 453.4h0M626.4 454.3h0M632.7 454h0M654.5 453.6h0M666 453.3h0M456.3 458.2h0M459 459.8h0M480.1 459.1h0M481.2 458.9h0M492.3 456.1h0M513 457.1h0M525.7 456.5h0M528.7 459.2h0M544.6 459.7h0M548.2 459.9h0M569.6 458.2h0M569.5 457.6h0M582.5 456.6h0M589.6 458.4h0M591.3 458.4h0M594.2 457.9h0M622.7 459.3h0M627.9 459.6h0M635.8 458h0M637.8 457.2h0M652.1 458.7h0M662.1 459.1h0M456.6 462.4h0M484.5 461.1h0M481.3 463.8h0M483.1 460.5h0M488 461.5h0M491.9 463.8h0M521.5 463.8h0M539.8 460.5h0M538.9 463h0M579.1 463.2h0M589 463.3h0M610.2 463.9h0M612.9 462.7h0M617.6 460.6h0M623.3 463h0M626.1 460.9h0M634.5 461.7h0M638.6 461h0M639.4 463.7h0M657.3 462.5h0M668.6 462.5h0M452.4 465.7h0M462.8 464.3h0M477.4 468h0M498.4 464.7h0M516.5 466.9h0M528.3 465.8h0M535.3 464.5h0M538.9 464.7h0M544.1 466.6h0M573.3 465.6h0M608 466.7h0M613.7 466h0M624.9 467.3h0M641 464.9h0M643.5 466.3h0M643.4 466.8h0M651.3 467.3h0M652.6 465h0M672.4 468h0M456.1 471.7h0M456.1 468.1h0M477.3 468.3h0M480.4 469.7h0M510.4 469.8h0M512.6 470.3h0M531.9 470.2h0M549.9 468.6h0M569.8 471h0M574.4 468.5h0M589.5 469.8h0M595.8 468.2h0M609.7 471.7h0M614 471.8h0M629 468.7h0M666.4 471h0M488 472.6h0M497.5 473.4h0M499.4 473.9h0M517.6 475.7h0M517.6 473.3h0M527.7 473.7h0M527.2 472.8h0M531.4 473.8h0M532.5 473.1h0M541.2 472.4h0M578.3 473.6h0M586.5 475.4h0M586.3 474.1h0M586.3 472.2h0M595.1 475.9h0M594.6 473h0M606.7 474.8h0M613.7 472.5h0M631.3 472.9h0M662.2 472.1h0M449.5 478.2h0M459.4 479.4h0M466.7 477.2h0M473.4 477.1h0M484.3 478.3h0M491.1 479.8h0M489 476.1h0M500 477.8h0M536.5 479.7h0M549.2 478h0M579.9 477.5h0M605 478.2h0M635.5 478.6h0M634.1 477.1h0M667.7 479.6h0M451.1 482.7h0M459.1 482.6h0M472.6 482.8h0M470.4 480.3h0M483.4 481.3h0M481.9 482.1h0M487.6 481.1h0M485.9 483.1h0M498.2 482.3h0M514.3 482.2h0M520.7 483.8h0M521.9 481.6h0M547.4 480.8h0M569.7 481.6h0M646.2 481.9h0M648.3 482.6h0M658.1 482.1h0M670.2 481h0M450.3 487.3h0M471.5 488h0M544 486.7h0M545.9 487.3h0M574.2 486.6h0M591.4 486.9h0M594.2 487.1h0M616.7 486.9h0M620.8 484.4h0M618.1 487.2h0M627.1 485.3h0M633.5 486.2h0M648.7 486.5h0M667.2 485.1h0M672.8 487.6h0M470.7 488.4h0M473.4 489.2h0M484 490.3h0M488.9 488.9h0M491.4 490.2h0M491.1 489.4h0M507.8 489.6h0M513 490.6h0M529.3 489.9h0M529.3 490.9h0M529 488.6h0M545.1 490h0M552.1 491.4h0M581.6 488.7h0M608.7 490.9h0M622.2 490.7h0M622.3 489.7h0M657.3 492h0M451.4 492.7h0M466 493.7h0M504.8 493.5h0M506.9 495.3h0M511.3 495.9h0M572.7 494.4h0M576.5 494.8h0M592.8 495.3h0M589.8 495.1h0M600.8 493.6h0M609.4 495.6h0M622.4 493.9h0M626.4 495h0M646.2 493.6h0M657.4 495.2h0M659.4 495.1h0M658.7 495.8h0M462 497.3h0M477 499.8h0M480.6 496.8h0M500.9 498.9h0M516 498.6h0M533 496.9h0M543.7 496.4h0M548.1 499.9h0M545.8 497.7h0M569.8 496.9h0M594.1 497.3h0M603.3 496.2h0M605.5 498.7h0M606.4 499.3h0M611.5 499.8h0M622.5 499.2h0M632.6 497.2h0M631.1 497.7h0M644.9 497.9h0M643.9 497.5h0M650.1 496.5h0M654 499.7h0M661.6 498.7h0M663.5 496h0M667.4 498.6h0M669 496h0M488.8 500.3h0M487.2 503h0M496 500.5h0M507.2 502.1h0M508 503.2h0M507.9 500.1h0M513.4 503.8h0M515.5 502.8h0M533.1 503.3h0M539.8 500h0M549.1 503.4h0M582.1 503.6h0M582.6 500.5h0M585.2 501.4h0M594.1 501.6h0M601.4 500.5h0M610 501.8h0M614.5 503.1h0M618.3 501.7h0M624 502.6h0M624.3 503.3h0M623.9 503.7h0M654.4 501.6h0M663.7 501h0M487.8 504.2h0M493.8 504.9h0M498.4 505.3h0M505.3 506h0M542.6 504.4h0M542.6 506.4h0M547 505.4h0M550 504.9h0M549.6 507.1h0M574.8 507.9h0M606.3 504.5h0M625.3 505.6h0M644 507.5h0M455.9 510.7h0M470.3 508.9h0M479 510.3h0M486.2 508.4h0M492.4 509.2h0M489.5 509.2h0M503 508.4h0M501 511.7h0M528 508.1h0M531.8 510.1h0M551.8 511.7h0M552.8 510.6h0M555.5 510.7h0M572.6 509.4h0M572.3 508.6h0M591 508.9h0M595.4 511.7h0M611.4 510.4h0M630 509.8h0M474.4 513.3h0M478.7 513.8h0M496.5 514.2h0M503.9 512.7h0M507.5 514.3h0M509.1 514.4h0M514.8 515.1h0M516.1 512h0M537.2 512.1h0M544 514.5h0M547.3 513.9h0M569.1 514.9h0M575.5 515.8h0M576.1 515.9h0M585.1 515.8h0M590.6 514h0M607.6 512.7h0M605.1 514.5h0M624.4 513.2h0M624.7 515.1h0M622.2 515.1h0M647.7 512.1h0M661.9 513.4h0M667.8 514.2h0M669 514.4h0M462.4 517h0M470.8 518.3h0M484.9 519.6h0M485.5 516.7h0M491.6 519.6h0M503.3 518.9h0M501.3 516.9h0M519.3 518.3h0M533.4 519.5h0M543.9 519h0M550.3 516.2h0M549.3 519.4h0M551.3 519.6h0M553.3 516h0M571.8 519.5h0M575.6 517.2h0M589.1 516.9h0M608.5 518.3h0M612.3 518.7h0M613 516.3h0M625.8 518h0M625.7 516.5h0M627.1 516h0M643.4 516.7h0M643.3 517.2h0M649 517.5h0M652.6 519.2h0M652.8 518.2h0M669.3 519.1h0M471 522.1h0M477.5 520h0M501.9 521.1h0M504.5 523h0M505.4 521.6h0M513.2 522.5h0M519.1 522.9h0M522.8 522h0M522 520.9h0M530.7 521.8h0M531.2 522.1h0M531.4 521h0M531.7 522.8h0M533.3 521.3h0M536.4 520.4h0M538.9 522.6h0M543.8 523.7h0M569.5 520.2h0M587 522h0M590.4 520h0M595.7 522.3h0M594.8 520.9h0M607.1 523.7h0M616.9 523.7h0M623.2 520.1h0M623.5 523.1h0M626.4 521.9h0M630.7 521.6h0M635.4 521.2h0M644.3 520.9h0M641.3 522.7h0M659.9 521h0M670.4 523.7h0M459.9 527.6h0M457.7 524.3h0M460.8 527.9h0M466.6 524.5h0M479.3 524.1h0M491.7 525.5h0M504.3 525.2h0M520.4 526h0M523 524.6h0M528.4 524.3h0M533.4 527.9h0M550.2 525.2h0M569.7 527.9h0M589.4 524.1h0M592.2 526h0M604.1 525.7h0M614.2 524.3h0M614.9 524.3h0M623.7 525.6h0M628.4 524.5h0M646.8 528h0M653.6 525.1h0M660 526.5h0M449.6 528.5h0M457.9 531.4h0M461 530.3h0M484.9 529.8h0M482.5 529.4h0M489.1 531.6h0M492.2 528.4h0M491 530h0M498.4 529.2h0M505.7 530.1h0M512.1 529.5h0M511.2 531.5h0M510.2 531.6h0M525.9 530.1h0M531.9 529.8h0M531.3 529.6h0M534.4 528.7h0M576.2 530.2h0M576.7 528.6h0M582.4 528.8h0M597.1 529.2h0M628.6 531.5h0M646.2 530.6h0M450.9 535.7h0M484.3 535.9h0M487.2 534.8h0M493.4 534.1h0M498.5 532.6h0M503.9 535.6h0M527.3 532.6h0M537.2 535.6h0M544.2 533.9h0M563.7 534.2h0M569.7 532.2h0M582.1 532.1h0M592.3 532.5h0M590.7 532h0M591.6 532.1h0M597.7 533.4h0M599.7 532.4h0M601.2 534.3h0M606.1 535.9h0M618.4 533.2h0M628.2 532.2h0M666.6 534.4h0M451 537.4h0M468.6 538.1h0M475 537.4h0M483.1 539.6h0M498.7 538.6h0M506.9 536.9h0M511.5 539.8h0M513.7 536.1h0M513.5 538h0M518 539.5h0M532.5 537h0M540.8 538h0M537.4 537.1h0M540.7 537.9h0M542.9 537.8h0M549.4 536.4h0M570.1 536.2h0M583.5 539.4h0M591.7 538.4h0M608.9 537.5h0M610.3 538.6h0M620.2 539.6h0M622.6 537.7h0M623.3 537.8h0M626.2 536.7h0M631.6 536.6h0M642.1 536.9h0M643.8 536.4h0M651.6 537.3h0M650.3 539.2h0M450.5 541.2h0M458.3 540.9h0M495.5 540.4h0M501.9 541.8h0M510.6 540.5h0M510.1 541.9h0M512.5 541.7h0M513.3 543.6h0M516.8 540.8h0M515.1 543.8h0M517.6 540.9h0M524.8 542h0M543.7 541.7h0M577.6 541.5h0M624.4 540.1h0M628.9 542.2h0M627.3 541.3h0M629.6 542.4h0M645.8 543.6h0M649.5 543.8h0M665.8 543.9h0M470.2 547.5h0M479.9 545.9h0M478.7 546.6h0M477.1 545.2h0M486.9 546.4h0M493.5 545.5h0M500.6 545h0M497.3 545.3h0M503.4 544.1h0M512.3 545.3h0M513.3 547.1h0M525.8 546.8h0M551.1 544.2h0M569.3 544.9h0M572.4 547.2h0M584.5 547.3h0M582.9 545.6h0M587.9 547h0M595.6 545.8h0M593.1 547.3h0M607.8 547.9h0M611.1 544.5h0M611.6 545.6h0M610.3 546.2h0M614.2 546.5h0M619.4 546.9h0M632.5 547.2h0M632.3 544.9h0M634.8 544.1h0M633.4 547.5h0M634.2 545.9h0M639.4 545.4h0M645 547.1h0M651.9 545.7h0M667 546.7h0M492.9 550.9h0M500.7 551.6h0M506.6 550.1h0M508.8 549.5h0M511.6 548.9h0M516.9 548.1h0M515.6 551.4h0M520.1 551.7h0M525.1 550h0M530.2 549.4h0M535 550.2h0M547 549.7h0M579.3 549h0M579.7 549.1h0M582.5 551.3h0M585.7 549.9h0M585.4 550.8h0M588.2 550.7h0M587.1 551.1h0M589.8 549.2h0M589.5 551.6h0M593.4 550.6h0M599.8 550.6h0M609 550.8h0M614.3 550.8h0M613.4 548h0M615.9 549.9h0M628.1 549.8h0M635.6 548.5h0M637.5 550.4h0M641.3 548.3h0M672.7 548.5h0M669.1 548.9h0M465.1 553.4h0M467.1 553.5h0M492.5 553.6h0M495.8 552.7h0M497.8 555.7h0M499.5 553.8h0M503.2 554.2h0M514.8 554.6h0M529.4 552.2h0M534.3 555h0M540.9 555.4h0M537.2 552.5h0M544.3 553.6h0M547.6 555.1h0M564.9 553.3h0M570.6 554.4h0M572.2 553.7h0M599.9 553.6h0M609.6 555.5h0M633.2 552.3h0M636.5 552.5h0M647.6 554h0M655.9 555.6h0M658.8 553.7h0M662.9 554.3h0M665.4 552.5h0M450.5 559.6h0M478 556.7h0M477.3 559.7h0M484.5 558.1h0M487.4 556.9h0M492.2 557.4h0M489.6 557.9h0M496.4 559h0M497.8 559.4h0M508.8 559.1h0M509.9 556.6h0M509.5 556.6h0M512.2 559h0M540.9 558.6h0M541.5 559.3h0M541.2 559.2h0M544 559.9h0M556.5 559.4h0M570.3 558.9h0M570.2 559.2h0M586.9 557.4h0M589 558.1h0M602.8 559.5h0M616.9 559.6h0M623.6 557.8h0M627.3 558.8h0M629.2 557.6h0M647.7 556h0M650.5 559.3h0M653.7 559.3h0M655.5 557.8h0M654.2 558.1h0M654 558.1h0M657.1 558.2h0M672 559.9h0M670.4 557.3h0M453.5 562.2h0M458.4 563.1h0M483.5 563.8h0M491 563.3h0M511.6 562.5h0M576.5 563.6h0M580.4 563.2h0M578.5 561.5h0M583.6 560.1h0M582.6 561.8h0M581.8 562.6h0M604.4 560.7h0M602.3 561.4h0M608.9 562.4h0M608.3 563.5h0M610.8 563.5h0M617 561.5h0M620.3 561.9h0M621.6 560.1h0M626.9 560.3h0M639.8 561.7h0M660.9 561.8h0M661 560.2h0M666.5 562.3h0M456.8 565.7h0M472.2 564.2h0M471.3 565h0M474.4 564.6h0M476.5 566.2h0M481.9 565.1h0M486.8 565.1h0M498.8 567.2h0M500.4 564.9h0M511 565.1h0M512 564.2h0M521 564.7h0M523.2 565.8h0M521.3 565.5h0M529.1 566.9h0M533.3 564.6h0M542.3 567.6h0M544.6 564.3h0M544.6 565.8h0M543.8 566.6h0M548.1 564.7h0M579.2 567.7h0M582 567.8h0M604.2 566h0M605.1 565.2h0M608.9 564.1h0M617.5 564.8h0M620 567.7h0M622.1 564.9h0M629.1 567.4h0M636.2 564.9h0M639.9 564.8h0M650.5 564.7h0M654.1 567.9h0M473 569.3h0M478.8 569.9h0M481.1 568.4h0M485.9 568.9h0M495.2 569.4h0M514.5 570h0M515.2 570.9h0M514 568.2h0M531 568.4h0M532 571h0M536 571.7h0M539.6 571.6h0M570.3 570.6h0M574.2 571.5h0M580 569.4h0M586.7 571.8h0M589.5 568.4h0M621.8 568.7h0M629.6 571.2h0M630.9 569.3h0M656.9 571.9h0M657.3 568.8h0M662.6 570.1h0M668 569.9h0M456.5 573h0M459.4 575.4h0M463.1 575.6h0M469.5 573.5h0M472.2 576h0M492.3 575.7h0M491.8 572.9h0M493.3 573.8h0M498.1 573h0M499.2 574.6h0M507.2 573h0M518.4 573.6h0M526.5 572.6h0M540.4 575.5h0M542.1 575.3h0M546.7 572.8h0M591 575.3h0M609.3 572.4h0M613.2 572.7h0M618.8 573.4h0M618.7 576h0M621.6 573.9h0M623.1 573.8h0M628.4 575.1h0M627.4 575.9h0M631.6 575.2h0M629.8 572.8h0M631 574.7h0M633.8 574.5h0M636.2 575.9h0M644.5 574.1h0M646.9 575.6h0M649.5 573.7h0M654 573h0M653.6 573.7h0M658 572.6h0M451 576.9h0M457.5 576.1h0M458.4 579.7h0M466.4 576.4h0M480.6 579.9h0M488 578.5h0M496.4 577.8h0M493.4 577.3h0M504.9 579.5h0M502 579.9h0M518 579.8h0M517.6 579.6h0M527.8 577.3h0M534.5 579.7h0M543.4 578.4h0M547.2 579.6h0M545.2 576.3h0M551.9 576.3h0M552.8 578.6h0M570.7 576.5h0M593.2 576.6h0M607.2 577.4h0M610.2 576.7h0M609.3 577.2h0M618.5 578.5h0M619.3 579.9h0M631 578.8h0M456.2 580.4h0M455.4 581.7h0M453.9 581.8h0M466.2 582.5h0M467.6 582.6h0M475 582.7h0M478.4 581.1h0M507.2 583.2h0M515.9 580.3h0M521.3 581.4h0M525.6 581.6h0M532.3 580.7h0M529.3 582.3h0M539.5 581.3h0M544.1 583.3h0M546.9 580.7h0M549.3 580.1h0M572.5 580.5h0M569.7 582.5h0M578.6 582.3h0M580.9 584h0M619.5 580.3h0M630.8 582.2h0M633.8 581.3h0M635.5 581.8h0M641.6 582h0M665.8 580.5h0M454.5 586.5h0M457.1 585.1h0M463.8 584.2h0M475.2 584.3h0M478 586.9h0M479.2 586.9h0M494 584.3h0M516.4 584.7h0M525.6 586.5h0M538.6 587.3h0M550.2 586.1h0M570.1 587.4h0M575.4 587.3h0M574.2 586.8h0M584.1 586.1h0M585.6 584.2h0M589.4 584.7h0M589.3 584.9h0M604.5 586.3h0M614.6 586.4h0M620.3 587.5h0M620.8 584.8h0M622.8 585.9h0M631.6 586.5h0M633.2 587.2h0M654.5 585.9h0M659.6 586h0M467.1 591.8h0M489 591.1h0M493.3 589.2h0M503.8 590.8h0M510.8 588.1h0M510.5 588.9h0M533 590.9h0M534.3 589.6h0M540.8 591.8h0M545.8 591.7h0M551.4 588.6h0M575.1 591.8h0M575.5 591.6h0M606.7 588.3h0M612.2 591.2h0M617 588.4h0M620.9 590.6h0M621.2 590.9h0M630.4 590.3h0M644.3 591.3h0M656.6 590.8h0M449.5 592.4h0M456.2 594.9h0M461.8 595.6h0M462.2 593h0M476.2 595.2h0M481.7 593.4h0M481.6 594.5h0M486.6 595.4h0M504.6 592.9h0M511.4 594.5h0M519.4 595h0M527.2 594.5h0M539.7 593.5h0M541.8 595.1h0M565.1 593.2h0M569.2 592.3h0M576.4 592.2h0M585.1 593.1h0M586.6 594.5h0M594.7 595.1h0M605 594.3h0M607.9 595.4h0M611.5 593.2h0M614.9 594h0M624.2 596h0M638.7 594.2h0M464.7 599.2h0M462.1 596.2h0M462.8 599.8h0M468.4 596h0M473.8 596.2h0M480.9 597.6h0M478.7 599.7h0M490.7 596.7h0M491 599.3h0M491.7 597.9h0M494.3 599.7h0M494.8 596.8h0M500.9 599.3h0M500 597h0M501.5 596.2h0M503.9 598.7h0M506.4 596.8h0M512.2 596.3h0M532.5 597.3h0M536 598.7h0M534.7 599.5h0M549.7 597.9h0M562.8 598.3h0M575.7 599.7h0M578.7 599.3h0M579.3 598.2h0M582 596.5h0M582 599.5h0M584.2 596.4h0M583.4 596.8h0M594.2 597.1h0M608.1 599h0M609.6 599.5h0M629.8 598.3h0M629.1 596.4h0M644.7 598.9h0M648.6 598.4h0M656 596.3h0M654.6 596.3h0M664.6 598.2h0M669.1 599.6h0M460.5 600.4h0M457.7 600.1h0M473.6 600.6h0M490.7 600.2h0M489.6 603.3h0M499.8 602.1h0M505.5 602.3h0M507.2 603.3h0M512.4 600.3h0M513.9 601.8h0M513.9 600.6h0M521.4 600.4h0M536.9 602.8h0M538 603.3h0M540.3 601.2h0M542.3 601.9h0M551.1 601.7h0M552.3 601.9h0M557.3 600h0M579.8 602.4h0M577.9 602.3h0M584.9 603.8h0M582.2 602.8h0M590.8 604h0M590.7 600.9h0M591.1 601.2h0M602.3 600.9h0M606 601.4h0M605.1 601.5h0M609.4 602.5h0M612.6 602.4h0M615.1 602.4h0M621.6 602.2h0M635.2 603.5h0M633.9 603.6h0M634.8 602.4h0M637.3 600.1h0M653.9 602.1h0M657.2 604h0M660.7 602.5h0M661.1 600.2h0M458.2 606.2h0M462.9 605.3h0M465.4 604h0M465.7 607.1h0M501.9 604.3h0M504.5 605.5h0M504.8 607.9h0M507.8 605.3h0M509.9 607.3h0M512.5 606h0M515.9 604.7h0M532.9 607.2h0M542.6 606.6h0M548.2 605.3h0M548.8 607.2h0M548.9 607h0M547.7 604.1h0M550.6 604.4h0M550.9 607.5h0M569.9 605.5h0M589 607.2h0M596.8 606.4h0M605.6 606.9h0M609.1 604.1h0M609.3 607.2h0M612.5 605.3h0M621.5 605.8h0M626 607.8h0M640 604.2h0M640 607.8h0M643.2 606.2h0M644.8 605.3h0M648.2 604.1h0M651.2 605.4h0M650.4 606.4h0M653.8 606.4h0M657.9 605.7h0M451.5 609.2h0M463.2 608.2h0M472.4 608.7h0M477.3 610.7h0M482.6 610.9h0M481.6 608.2h0M491 611.5h0M496.2 608.9h0M502.3 609.1h0M508.3 608.2h0M509.6 611.2h0M514 610.2h0M517.9 609.4h0M523.8 608.4h0M524.5 611.9h0M526.1 612h0M530.6 610.8h0M538.2 609.6h0M539.4 611.5h0M548.8 611.5h0M555.6 611.6h0M574.5 608.6h0M574.7 610.9h0M586.3 608.1h0M593.4 608.9h0M602.7 610.6h0M606.8 609.6h0M606.6 610.1h0M605 610h0M615.1 608.5h0M614.5 609h0M618.7 608.7h0M628.4 611.2h0M637.7 610.1h0M643.3 611.4h0M646.8 609.8h0M647.1 608.4h0M656.9 608.1h0M654.4 610h0M663.2 611.6h0M455.9 614.4h0M463.5 612.2h0M463.4 613.7h0M473.6 614h0M476 615.7h0M474.7 612.4h0M473.4 612.2h0M480.6 615.2h0M481.8 612.5h0M486.8 615.6h0M486.9 615.9h0M499 615.2h0M502.7 614.7h0M518.8 613.1h0M520.9 612.5h0M529.3 614.3h0M536.8 612.1h0M540.3 612.2h0M543.6 613.6h0M550.6 613h0M577.1 612.2h0M579.9 614.2h0M586.5 612.3h0M588.3 614.6h0M588.6 614.2h0M599.6 615.6h0M612.4 614.8h0M613.8 613.3h0M613.3 612.1h0M616.1 615.3h0M618.8 613.4h0M632 613.7h0M631.6 613.6h0M638.9 615.3h0M639.3 613.7h0M642.8 613.2h0M651.2 612.7h0M656.5 613.4h0M656.1 615.8h0M653.7 614.9h0M658.2 615.1h0M666 615.4h0M449.9 620h0M460.2 619.6h0M459.6 617.9h0M478.6 618h0M478 617h0M477.5 618.8h0M488.2 619.8h0M495.2 618.7h0M508.3 617.9h0M512.4 617.9h0M513.8 619.9h0M518 617.9h0M519.7 618.6h0M521.6 618.5h0M535.8 617.8h0M545 619.7h0M545.3 618h0M551.3 617.2h0M554.9 616.8h0M574.9 619.4h0M582.8 617.3h0M594.7 618.8h0M598.2 619.9h0M599.2 618h0M604.8 617.8h0M614.5 617.7h0M617.2 617.7h0M624.3 619.5h0M629.4 619.9h0M637.7 618.2h0M637.1 619.5h0M638.7 618.3h0M642.6 617.3h0M649 617.1h0M650.7 617.6h0M652.6 619.8h0M652.5 619.4h0M653.2 616.8h0M654.4 619.5h0M457.4 623.9h0M472 622h0M478.4 621.2h0M481.7 621.8h0M486.2 623.6h0M489.6 621.1h0M494 620.5h0M494.5 620.9h0M504.8 622.2h0M505.5 623.9h0M508.9 623.8h0M512.6 620.7h0M527.5 622.2h0M529.8 622.6h0M538.4 623.3h0M546.7 620.4h0M546.2 620.1h0M551 620.4h0M572.4 620.3h0M570.4 620.7h0M570.6 621.4h0M572.1 620.6h0M579 623.6h0M582.9 623.7h0M595.1 620.3h0M611.2 621.5h0M609.9 621.2h0M612.6 623.4h0M615.3 622.9h0M619.1 620h0M623 622h0M624.9 620.9h0M627.1 623.5h0M636.6 621.1h0M639.2 621.6h0M641.5 620.7h0M672.3 623.1h0M458.9 628h0M471 624.2h0M473.2 625.5h0M481.6 627.8h0M487.1 626.7h0M487.9 624.5h0M501.3 626.2h0M508 627.4h0M505.4 626.4h0M506.6 625.4h0M516.1 626.7h0M525.2 626.1h0M538.6 624.4h0M537.7 627.6h0M539.3 627.4h0M575 626.2h0M577.5 624.9h0M577 628h0M582 626.6h0M582.6 625.2h0M587.2 626.8h0M587.5 628h0M591.9 625.8h0M596 624.3h0M605.7 627.7h0M606.5 624.3h0M615.7 627.2h0M615 624.4h0M620.7 627.3h0M623.2 626.2h0M632.6 625h0M633.3 627h0M633.9 625.2h0M636.6 625.5h0M643.5 624.8h0M656.6 627.5h0M654.6 626.7h0M656.6 625.8h0M668.4 626.5h0M454.4 628.1h0M463 630.2h0M481.3 629.4h0M495.1 631.1h0M499.9 629.5h0M508.6 631.9h0M519.7 631h0M518.4 628.1h0M520.6 630.1h0M521.1 631.8h0M528.8 630.9h0M534.4 629.3h0M535.8 632h0M545.6 628.4h0M551.5 630.3h0M550.1 628.2h0M562.6 630.2h0M573.4 630.5h0M577.6 630.7h0M577.4 630.6h0M579.2 631.6h0M584.1 629.7h0M582.3 631h0M585.8 631.2h0M585.4 629.1h0M594.9 629.6h0M603.6 630.5h0M603.3 628.3h0M605.5 631h0M613.9 630.4h0M615.5 630.4h0M617.4 629.4h0M622.4 631.9h0M621.9 629.9h0M626 628.8h0M629.1 630.4h0M632.3 631.9h0M632.8 629.2h0M635.5 628.9h0M634.4 631.5h0M640.6 629.1h0M640.9 631.9h0M637.7 631.4h0M643.1 631.2h0M647.9 630.1h0M649.9 631.1h0M657.2 630.6h0M452.1 634.1h0M456.7 633.8h0M456.7 632.8h0M456.4 633.3h0M466.7 632.5h0M465.5 634.9h0M478.1 633h0M481.7 633.3h0M484.8 633.3h0M482.3 635.7h0M488.2 633.1h0M489.5 634.1h0M504.6 634.7h0M501.1 634.3h0M509.2 633.8h0M510.6 635.3h0M517.8 633.3h0M532.2 633.4h0M537.3 633.3h0M539.4 634.2h0M539.8 634.7h0M538.7 633.5h0M569.5 632h0M577 635.4h0M576.2 634.5h0M574.3 632.8h0M573 635.7h0M578.6 632.6h0M579.7 632.1h0M582.2 635.9h0M588.3 634.6h0M592.6 633.1h0M593.9 633.2h0M600.5 635.7h0M597.9 634.7h0M608.7 635.5h0M610.8 633.2h0M614.8 633.1h0M618.3 635.4h0M620.8 634.3h0M635.1 632.7h0M634 633.2h0M644.3 632.1h0M644.6 633.7h0M644.2 633.2h0M641.8 633.5h0M648.8 632.3h0M651.7 635.7h0M657.6 633.9h0M664 634.1h0M449.8 639.4h0M454.1 638.1h0M459.6 636.3h0M460.4 637.6h0M462.8 636h0M470.9 637.4h0M476 638.8h0M475.3 636.3h0M476.9 637.4h0M480.7 638.9h0M480.8 639.8h0M480 639.6h0M479.4 636.7h0M483.4 639.4h0M484.2 639.8h0M487.9 640h0M495 639.2h0M501.8 640h0M506 637.1h0M509 636.9h0M511.9 636.5h0M511.6 639.1h0M515.6 637.5h0M520.4 637.3h0M522.2 638.1h0M528.6 638.3h0M532.7 638.4h0M537.8 637.1h0M543.7 636.5h0M547.4 637.3h0M547.8 637.1h0M547.2 638.2h0M577.8 638h0M580.4 638h0M577.4 636.1h0M586.9 636.9h0M591 636.8h0M590.6 639.6h0M597.5 638.5h0M618 636.6h0M634.7 636.4h0M640.7 639.8h0M656.1 636h0M655.1 639.1h0M665.9 638.3h0M669.4 639.2h0M452.6 640h0M452.9 641.9h0M451.4 641.3h0M453.5 642.2h0M462.8 642.6h0M464.8 643.7h0M465.7 641h0M471.3 640.7h0M470.1 643.5h0M471.8 641.2h0M483.8 643h0M483 640.4h0M487.7 642.3h0M487.8 640.8h0M489.1 642.4h0M494.2 643.5h0M505.1 643.4h0M505.6 643.3h0M513.6 642h0M516.2 640.3h0M516.2 641.2h0M517.6 642.8h0M520.8 640.2h0M523 641.2h0M529.4 640.1h0M545.2 640.2h0M547.7 642.8h0M569.5 642.7h0M573.7 643.2h0M579.7 640.5h0M581.9 643.4h0M585.7 641.4h0M590.2 642.3h0M600 642.1h0M602.5 641.8h0M615.2 641.9h0M613.6 640.3h0M615.5 640.4h0M616.2 642.6h0M620.4 640.9h0M625.4 641.3h0M631.7 641h0M636.4 641.2h0M640.8 640.6h0M638.5 642.2h0M644.7 640.6h0M644.8 641.6h0M642.5 642.8h0M643.6 641.3h0M653.7 643.3h0M654 641.3h0M658.9 642.8h0M662.1 642.5h0M454 646.8h0M464.8 645h0M464.9 645.9h0M462.4 644.5h0M464.1 647.2h0M467.1 647.9h0M475.3 646.1h0M495.7 644.1h0M503.6 647.4h0M511.1 647.4h0M517.2 647h0M518.6 645.5h0M518.2 646.7h0M526.1 645.3h0M539.2 644.5h0M544.9 646.9h0M549.7 644.1h0M561.4 647h0M572 647.5h0M573.6 645.7h0M582.9 647.1h0M581.9 646.6h0M586.1 647.4h0M589.5 646.8h0M605 644.3h0M602.1 645.4h0M608 648h0M610 645.8h0M616.9 647.8h0M619.7 644.8h0M620 644.6h0M622.3 645.6h0M623.2 647.1h0M654.1 646.7h0M658.3 644.1h0M657.1 647.2h0M658.1 644.4h0M672.7 647.8h0M454.1 648.4h0M453.4 648h0M458.2 648.2h0M459.1 649.9h0M457.5 649.8h0M461 650.8h0M475.9 648.1h0M482.8 651.4h0M485.7 648.7h0M492.3 651h0M494.6 649.7h0M503.6 651.8h0M508.6 649.2h0M509 649.2h0M511.9 649.7h0M517.6 649.7h0M517.6 650.8h0M521.8 649.5h0M523.6 649.1h0M528.8 649.8h0M528.1 648.6h0M525.9 648.2h0M527 651.9h0M531.1 648.5h0M531.6 650.1h0M544.6 648.1h0M571.1 651.2h0M576.4 649.4h0M580.5 650.5h0M585.9 652h0M589 651.6h0M595.9 651.1h0M593.6 648.9h0M597.9 649.7h0M600.9 650.9h0M604.5 650.1h0M606.3 648.6h0M613.5 651.3h0M620.3 650h0M619.7 648.7h0M622.9 648.3h0M621.6 649.1h0M631.6 651.2h0M633.9 649.6h0M639.2 648.2h0M638.3 651.9h0M644.2 651.2h0M645.7 650.6h0M657.4 651.8h0M664.9 649.1h0M452.8 653.1h0M451.4 653.1h0M453.5 652.4h0M461.8 655.2h0M465.1 654h0M478.7 652.4h0M483.5 653.6h0M493 655.9h0M489.8 655.2h0M496 653.8h0M494.1 653.4h0M499.5 652.9h0M512.4 655.5h0M512.2 654.3h0M511.9 654.3h0M517.2 652.4h0M520.8 653.8h0M524.1 654.8h0M526.7 652.5h0M540.1 655.5h0M548.8 652.6h0M552.6 654.6h0M565.3 654.5h0M571.3 654.9h0M586.1 654.1h0M587 652.6h0M592.9 654.2h0M593.1 653.3h0M596.9 653.9h0M593.7 653h0M601.9 654.2h0M607.7 652.1h0M612.1 653.9h0M620.5 652.9h0M621.7 653.1h0M627.1 652.9h0M627.1 653h0M638.1 655.5h0M642.4 654.3h0M648.6 653.2h0M654.1 653.5h0M653.3 654.1h0M657.9 653.9h0M657.6 654.3h0M668.1 655.5h0M672.7 654.9h0M450 658.2h0M464.5 659.3h0M472.9 656.4h0M481.6 658.6h0M486.8 658.9h0M498.6 656.7h0M507.4 658.1h0M505.2 657.6h0M505.5 659.7h0M509.4 657.8h0M513.7 656.8h0M520.4 659.3h0M523.1 658.1h0M526.1 656.4h0M531.6 656.9h0M533.1 657.4h0M545 658.1h0M546.5 656.7h0M552.1 658.5h0M553.4 659.4h0M580.2 657.8h0M581.1 658.2h0M587.4 657.4h0M590.2 657.3h0M593.8 659.9h0M599.3 658h0M597.1 656.6h0M602.8 658.3h0M602.7 657.4h0M603 657.5h0M608.9 657.9h0M618.5 656.3h0M624.4 657.5h0M621.5 656h0M628.6 659.6h0M632.1 659.1h0M643.9 656.9h0M643.3 656.8h0M660.9 657h0M660.2 658.5h0M662.6 659.3h0M452.3 660.9h0M452.3 663.6h0M453.7 660.1h0M462.3 661.3h0M465.2 661.3h0M466.5 660.6h0M469.2 661.5h0M469.9 662.1h0M488.9 661.6h0M487.4 661.2h0M504.3 663.9h0M501.1 661.6h0M507.2 663.7h0M508.5 663h0M511.1 662.6h0M512.7 663.7h0M513.7 663.3h0M517.5 662h0M522.7 661.6h0M529.5 660.5h0M533.5 660.1h0M533.7 660.8h0M533.4 661.4h0M540.4 662.3h0M543.1 660.1h0M562.4 663h0M569.4 660.7h0M575 661.7h0M578 663.8h0M586.8 660.5h0M587.4 662.7h0M592.9 661h0M592.5 662.4h0M594.9 662.5h0M593.4 661.2h0M593.8 660.1h0M595.7 660h0M593.5 660.8h0M601.1 661.6h0M611.3 662.8h0M616.6 662.8h0M620.1 662.7h0M621.2 663.9h0M622.5 661.1h0M631.1 663.7h0M646.2 662.8h0M657.8 661.4h0M659.7 663.9h0M663.8 663.2h0M667.5 663.4h0M672.5 663.6h0M453.8 665.1h0M461.5 666.9h0M468 665.5h0M470.2 667.6h0M472.3 664.7h0M475.8 666.4h0M488.2 664.1h0M495.4 667.6h0M494 664.3h0M498.9 666.9h0M500.1 665.7h0M501.1 666.9h0M502.9 665.1h0M502.4 665.9h0M504.8 667.9h0M512 665.4h0M510.3 667.3h0M511.8 667.8h0M520.2 665h0M519.5 667.8h0M517.4 665.8h0M533.2 664.9h0M538.9 666.5h0M539 667.6h0M541.9 667.6h0M545.1 667.1h0M548.4 665.2h0M545.3 666.4h0M552.4 664.4h0M572.6 667.4h0M579.2 664.1h0M582.8 666.1h0M582.8 664.5h0M581.3 667.3h0M593.2 664.1h0M599.5 666.2h0M602.2 664.2h0M619 666.2h0M619.6 666.4h0M623.5 667.6h0M625 666h0M621 666h0M625.8 667.2h0M639.7 665.4h0M641.5 666.4h0M646.3 664.1h0M649 665.8h0M659.2 665.8h0M664.7 666.8h0M662.5 665.7h0M450.3 668.8h0M451.4 668.3h0M449.7 669.1h0M453.2 670.3h0M475.8 668.7h0M480.4 671.5h0M485.6 668.7h0M487.1 669h0M492.3 670.7h0M496.3 669.8h0M507.4 669.9h0M511.8 669.2h0M509.7 671.6h0M514 670.3h0M514.9 670.2h0M518 671.5h0M523.8 669.1h0M524.2 670.9h0M524.2 671.4h0M528.5 671.9h0M527 670.4h0M528.7 670.5h0M525.8 669.1h0M525.4 670.6h0M539.5 671.9h0M542.3 669.8h0M549.5 668.3h0M550.7 668.5h0M571 668.6h0M572.5 668.1h0M571.3 670.7h0M575.2 668.1h0M578.3 671.7h0M589 668.3h0M592.3 669.8h0M593.1 670.9h0M607 670.5h0M610.7 670.9h0M609.9 669.4h0M619.3 668.5h0M636.4 670.5h0M637.8 671.2h0M647.4 669.8h0M655.3 668.7h0M653.2 670.4h0M663.2 671.1h0M668.9 671.4h0M665.9 669.8h0M452.4 675.1h0M450.6 672.1h0M454.8 674.5h0M473.7 673.1h0M481.3 674.6h0M490.5 673.5h0M490.2 673.6h0M495.6 673.6h0M498.3 674.6h0M500.3 675.5h0M501.2 673.1h0M506.3 672.8h0M510.4 672.5h0M514.2 673.9h0M515.4 675.4h0M517.5 674.5h0M523.5 675.8h0M540.1 674.9h0M538.3 673.4h0M541.6 674.6h0M547.4 674.1h0M546.1 673.4h0M549.8 675.6h0M550.1 672.6h0M549.8 672.8h0M572.2 673.8h0M572 674.6h0M575.6 674.1h0M578.4 675.3h0M585.4 673.5h0M588.8 673.5h0M600.6 673.3h0M597.9 675.6h0M606.8 672.4h0M605.7 673.4h0M612.9 672.2h0M611 672.7h0M612.4 672.2h0M617.6 672.6h0M619.2 672.1h0M621 675.4h0M628.6 672.9h0M626.2 675.4h0M647.4 673h0M645.4 672.2h0M647.3 672h0M651.5 675.5h0M656.6 676h0M658.3 672.6h0M458.2 680h0M458.5 679.7h0M461.4 679.1h0M461.1 677.8h0M465.1 679.5h0M467.6 676.9h0M472.7 679.8h0M476.7 678.4h0M474.9 679.3h0M478.1 677.1h0M478.7 677.9h0M495.9 677.3h0M495.6 676.7h0M499.4 677.6h0M505.5 678.3h0M512.8 679.2h0M512.1 677.8h0M514 677.8h0M520.9 679.5h0M524.3 678.6h0M523.2 679.8h0M522.8 676.3h0M525.1 680h0M532.1 679.1h0M536.9 678.9h0M538.4 676.6h0M550.9 678.9h0M552.6 679.9h0M550.3 676.7h0M572.8 679h0M574.3 677.4h0M580.3 679h0M580.1 676.4h0M579.9 677.9h0M587.5 676.3h0M586.3 679.9h0M592.5 679h0M594.4 678.7h0M599.9 679.2h0M603.9 676.2h0M606.5 676.9h0M608.4 679.4h0M611.6 678h0M613.9 676.4h0M619.3 678.3h0M620.7 677.1h0M624.6 676.2h0M622.4 676.6h0M624.6 679.1h0M622.9 677.3h0M631.5 676.2h0M633.1 676.7h0M635.5 677.8h0M638.7 679.2h0M646.9 676h0M646.1 676.7h0M649.9 679.1h0M652 676.7h0M649.9 676.3h0M658.2 678.1h0M660.7 678.2h0M657.9 679h0M663.2 677h0M671.4 677.8h0M453.2 683.5h0M459.2 681.7h0M467.6 683.8h0M471.1 681.3h0M477.6 682.6h0M477.3 682.5h0M487.5 682.2h0M486.4 680.1h0M490.6 683.1h0M493.8 681.5h0M493.7 680.3h0M493.5 683.9h0M500.5 683.6h0M499.9 681.7h0M503.1 681.9h0M505.5 681h0M509.9 680.7h0M512.7 681.6h0M517.7 681.1h0M531.9 681h0M535.1 682.4h0M534.9 681.6h0M540.9 681.1h0M551.7 680.9h0M575.7 682.4h0M575.2 681.4h0M581 680.5h0M584.9 680.1h0M588.4 681.6h0M596.4 682.6h0M594.2 680h0M602.6 682.3h0M602.8 680.3h0M606.9 680.5h0M612.6 683.2h0M612.4 683.5h0M632.8 683.6h0M631.7 681.6h0M636.1 681.9h0M635.6 680.1h0M640.3 683.9h0M643.7 682.7h0M645.2 682.2h0M650.7 682.8h0M658.4 682.9h0M658.2 683.4h0M453.2 685.1h0M453 686.5h0M456.3 684.5h0M462.7 684.6h0M468 686.5h0M469.9 686.1h0M471.2 684.1h0M472.2 686.2h0M473.7 684.4h0M477.4 687.5h0M479.6 687.7h0M477.1 685.5h0M483.5 684.4h0M488.6 687.1h0M486.9 686h0M493.6 687.5h0M503.7 686.7h0M501.1 687.7h0M510.7 686.9h0M511.1 685.8h0M516.8 685.9h0M518.4 684.4h0M530.2 686.7h0M531.3 686.6h0M529.2 685h0M536.4 686.9h0M533.5 687.2h0M533.4 687.2h0M537.9 686.8h0M537.8 687.9h0M537.8 686.5h0M545.3 684.2h0M547.5 686.6h0M549.8 684.6h0M551.6 686.3h0M569.4 685.3h0M573 687.1h0M572.3 687.5h0M576.5 685.2h0M580.8 688h0M581.4 685.1h0M586.3 687.7h0M595.2 687h0M596.5 687.4h0M602.3 684.2h0M610.2 686.6h0M612.4 687.9h0M618.4 686.1h0M617.5 685.2h0M620.1 685.5h0M623.1 687.8h0M621.9 687.4h0M628 687.8h0M633.6 685.4h0M636.1 688h0M636.2 684.7h0M638.8 686.5h0M639 684.4h0M642.9 685.2h0M649.9 684.9h0M655.8 684.6h0M659.3 687.2h0M658.3 684.6h0M450.9 688.5h0M453.3 688h0M456.3 688.4h0M454.4 691.9h0M465.7 689.7h0M468.2 688.8h0M480.4 688.2h0M477 689.9h0M497.4 689.8h0M497.2 691.3h0M499.4 692h0M505.3 690.9h0M508.1 691h0M511.2 689.3h0M511.3 688.3h0M520.5 689.6h0M519.7 688.7h0M520.1 690.3h0M523.8 691.5h0M525.7 688.7h0M537.6 688.4h0M550.8 690.1h0M556.4 691.6h0M571.1 689h0M574.1 689.7h0M574.9 691.5h0M578.1 688.8h0M586.3 689.2h0M591.4 689.1h0M595.4 690.8h0M612.9 688.3h0M610.6 688.9h0M610.6 691.2h0M609.1 690.7h0M613.5 689.7h0M616.3 690.6h0M617.4 690.6h0M621.8 690.2h0M624.1 689.6h0M623.5 690.3h0M634.6 689.4h0M639.8 689.7h0M646.6 691.4h0M649.9 689.2h0M650.8 689.3h0M655 691.5h0M660.9 690.4h0M669.6 688.6h0M451.3 695h0M468.5 695.7h0M470.4 694.8h0M471.1 692.5h0M473.6 694.1h0M473 693.3h0M473.9 693.3h0M483.2 694.5h0M481.1 692.9h0M488.5 695.5h0M487.5 692h0M493.1 692.1h0M495.5 694.3h0M495.6 695.7h0M499.8 693.6h0M502.8 696h0M501.9 695.8h0M506.6 692.7h0M510.1 694.1h0M516.5 692.4h0M523.4 695.4h0M523.5 695.8h0M532.7 693.9h0M529.3 695.1h0M532.6 694.3h0M537.1 695.4h0M537.7 695h0M539.8 692.8h0M540.9 693.7h0M537.8 693.5h0M544.5 692.6h0M547.9 693.6h0M587.2 693.6h0M586.5 693.7h0M591.6 693.1h0M597.3 692h0M600.5 692.3h0M617.3 692.9h0M625.3 692.6h0M628.9 693.6h0M627 693.2h0M636.4 695.5h0M638.2 694.5h0M639.7 692.7h0M637.3 695.9h0M646.1 692.2h0M648.1 693h0M649.3 694.2h0M653.8 692.5h0M656 692.5h0M451.5 699.1h0M451.8 699.1h0M450.5 698.6h0M457 698.2h0M456.9 699.2h0M456.3 697h0M471.6 697h0M470.1 698.9h0M471.4 697.4h0M488.6 696.2h0M491.7 696.7h0M492.4 697.4h0M494.9 699.7h0M493.2 698h0M497.9 696.8h0M500.2 696.7h0M501.5 696.7h0M501.9 696.3h0M509.1 697.8h0M516 699.4h0M523.1 697.6h0M534.5 697.7h0M539.2 700h0M537.8 699.2h0M538.9 697.4h0M542.8 699.7h0M544.5 699.4h0M546.7 699.4h0M550.7 697.9h0M558.2 699.8h0M570.6 699.4h0M573.1 696.9h0M586.9 698.1h0M594.3 698.7h0M595.8 699.4h0M593.3 697h0M595.4 698.1h0M598.8 697.2h0M597.5 696.4h0M602.9 698.9h0M601.9 699.4h0M610 697h0M611.4 696.1h0M616.1 698.5h0M619.2 696.6h0M619.5 699.2h0M617.2 696.5h0M618.1 697.7h0M627 698.3h0M627.8 699h0M626.6 699.9h0M632.3 699.4h0M632.1 698.9h0M635.6 698.6h0M640.2 697.3h0M640.8 698.7h0M642.6 696.1h0M653.8 697.2h0M660.6 696.4h0M663 698.8h0M667.9 699.6h0M455.4 702.1h0M453.5 702.3h0M459.5 702.6h0M462.8 701.4h0M467.3 700.2h0M470 701.1h0M470.3 701.7h0M471.8 700.3h0M475.7 702.3h0M476.8 703.1h0M478.9 701.8h0M477.7 703.6h0M482 701.3h0M484 700.5h0M482.4 701.7h0M482.5 701.4h0M488.2 701.5h0M488.9 703.4h0M486.4 702.1h0M490.2 703.8h0M497 701.7h0M495 700.9h0M508 702.2h0M507.5 701h0M506.1 703.5h0M510.8 703.5h0M510 701.9h0M519.5 701.5h0M530.6 702.1h0M529.2 703h0M534.5 702.1h0M540.1 702.5h0M537.9 703.2h0M544.4 700.8h0M552.5 702.1h0M550.8 702h0M562 700.8h0M565 702.9h0M572.6 703.5h0M569.9 700h0M572.3 700.5h0M577.3 703.3h0M581.5 700.7h0M583.6 702.9h0M585.5 700.4h0M591 703.1h0M595.6 701.6h0M596.8 704h0M597.6 703.3h0M606 703.7h0M606.2 702.1h0M611.1 701.5h0M614.4 701.8h0M616.7 701.1h0M619.9 703.1h0M624.3 703.6h0M624.6 703.3h0M627 700.3h0M630.7 703.1h0M632.6 702.2h0M635.4 703.6h0M646.9 701.6h0M645.2 700.3h0M651 702.9h0M655 700.3h0M667.7 703.8h0M452.2 707.4h0M453.6 706.4h0M459.6 707.5h0M460.6 707.7h0M465.8 705.4h0M468.8 706.9h0M467.4 706.7h0M471.6 704.3h0M490.1 707.2h0M492.5 707.4h0M497.4 706.3h0M497.6 707.8h0M499.4 705.4h0M505.4 706h0M511.8 707.1h0M510 705.6h0M510.9 706.4h0M513.3 705.8h0M514.5 707.3h0M525.1 707.7h0M530.7 705.6h0M530.3 706.5h0M535.9 707.4h0M536.4 708h0M547.7 706.1h0M551.4 706.4h0M551 706h0M550.1 704.4h0M549.3 704.5h0M572 704.1h0M576.1 705.3h0M581.4 707.7h0M581.5 706.1h0M590.5 705.9h0M589.9 707.2h0M595.8 706.4h0M597.4 706.6h0M602.1 707h0M607 707.5h0M616.4 707.4h0M620.9 705.6h0M624.2 706.1h0M624.4 705.3h0M625.6 704.3h0M632.9 705.7h0M631 705.1h0M634.8 707.5h0M644.7 706.8h0M642 707.2h0M641.7 704.3h0M642.5 706h0M646.2 704.6h0M656.9 707.6h0M653.9 705.5h0M658.9 706h0M658.5 707.5h0M460.4 708.2h0M464.1 711h0M463 711.7h0M465.6 709.4h0M466.6 708.6h0M477.1 711.9h0M478.7 710.3h0M477.7 709h0M494.8 708.8h0M493.4 708.9h0M500.7 709.9h0M501.8 708.1h0M502.1 710.2h0M507.3 709.4h0M509.9 708.6h0M512 711.8h0M513.9 711.6h0M516.4 711h0M520.6 712h0M517.8 708.1h0M517.6 708.9h0M522.4 709.4h0M526.2 710.8h0M525 709.3h0M530.7 708h0M534.2 710.1h0M539.8 708.5h0M539.3 710.7h0M549.4 710.2h0M551.6 709h0M565 709.5h0M572.9 709.3h0M575.1 708.7h0M580.8 710.3h0M583.2 711.2h0M581.3 711h0M585 710.5h0M585.1 708.6h0M589.1 709.6h0M591.4 708.1h0M596.2 710.6h0M599.2 710.7h0M608.4 708.8h0M614.3 709.3h0M618.4 708.3h0M620.3 708.6h0M624.2 709.5h0M624.6 708.6h0M621.6 708.3h0M626.4 708.2h0M626.3 708.8h0M630.8 709.8h0M631.2 708.9h0M636.9 710.4h0M634.3 708h0M641.6 710h0M650.7 710.8h0M655.8 709.3h0M658.7 708.5h0M659.1 710.9h0M672.2 710.8h0M669.9 708.3h0M452.8 713.1h0M450.7 712.4h0M453.7 715.3h0M474 714.2h0M476.5 713.3h0M478.3 713h0M480.1 714.7h0M477.9 712.2h0M487.6 713.4h0M485.6 715.8h0M490.7 712.5h0M495.4 713.3h0M495.6 713.3h0M510.8 712.5h0M520 712.7h0M526.5 715.6h0M526.8 715.6h0M527.7 714.1h0M531.5 713.7h0M533.4 713.1h0M536.1 713.3h0M537 713.6h0M540.5 714.2h0M537 712.6h0M541.6 712.4h0M548.8 715h0M551.1 715.2h0M550.8 714.4h0M569.3 714.1h0M572.9 714.5h0M573.4 712.4h0M580.5 715.5h0M579.2 712.5h0M579 712.8h0M581.4 715.2h0M585.4 712.4h0M590.2 713.7h0M589.2 714h0M593.2 715h0M598.8 712.7h0M606.3 713.6h0M606.6 715.2h0M610.3 714.5h0M619.3 713.6h0M618.7 712.3h0M629.1 712.2h0M633.8 713.7h0M638.4 715.3h0M643.7 714.3h0M650.6 714.8h0M667.7 712.4h0M454.3 717.1h0M456.5 718.7h0M456.2 717.1h0M460.5 718.1h0M463.8 717.6h0M481.4 717.5h0M488.1 718.7h0M485.5 717.6h0M487.9 716.8h0M487 718.5h0M492.2 716.9h0M490.5 719.4h0M496.9 718.8h0M494.2 717h0M504.2 717.3h0M502.6 719.3h0M507.3 717.5h0M511.2 718.9h0M524.2 716.7h0M525.8 720h0M527 719.6h0M540.4 717.5h0M542.8 719.7h0M545 718.8h0M549.6 717.6h0M571.6 716.8h0M569.7 717h0M580.8 719.8h0M579.3 719.8h0M584.7 719.3h0M583 720h0M582.4 719.2h0M581.6 718.8h0M588.7 719.3h0M585.8 717.8h0M586 720h0M590.1 717.3h0M589.2 718.1h0M600.9 716.8h0M607.7 716.9h0M616.7 719.5h0M613.3 719.9h0M616.9 719.8h0M621.2 718h0M623.6 716.2h0M622.6 718h0M628.5 716.8h0M628.3 718.1h0M630.8 718.3h0M631.9 719.9h0M634 717.8h0M636.9 717.2h0M640.1 719.4h0M651 719.9h0M650.1 716.3h0M656 719.3h0M659.1 717.2h0M657.4 716.5h0M663.5 718.5h0M661.3 717.8h0M670.5 717.5h0M458.6 723.9h0M468.2 721.2h0M470.1 722.3h0M469.4 722.3h0M475.8 721.7h0M475.7 722.4h0M478 723.9h0M486.9 723.9h0M491.7 723.6h0M498.3 721.7h0M502.3 723.1h0M505.1 723.7h0M505.7 721.9h0M511.2 723.5h0M516.9 721.8h0M518.7 721.8h0M524.3 722h0M523.8 722.1h0M522 723.5h0M525.6 723.1h0M531.2 722.1h0M534 723.3h0M534.4 720.5h0M549.1 720.9h0M550.3 723.3h0M569.5 720.2h0M573.9 723h0M580.2 722.8h0M582.2 720.7h0M582 720h0M586.5 722.8h0M586.5 723.1h0M586 720.3h0M587.5 723.8h0M587.3 721.6h0M594.9 722.3h0M607.1 721.4h0M609.6 723.2h0M616.8 720.1h0M618 720.9h0M628.4 720.4h0M627.9 722.7h0M633 723.8h0M633 721.9h0M644.7 721.9h0M642.4 723.7h0M644.5 722.5h0M648.1 722.7h0M646.5 723.7h0M649.7 721.3h0M655.7 723.4h0M659.8 721.3h0M449 724.2h0M452.5 725.5h0M460.5 725.4h0M459.2 725.7h0M457.3 726.6h0M457.8 727.7h0M459.9 726.8h0M460.2 726.4h0M468 726.6h0M472.1 727.4h0M474 724.6h0M480 724.5h0M481.4 725.5h0M484.5 727.9h0M483.4 724.7h0M487.4 727.9h0M486.4 724.9h0M503 725.5h0M510.5 726.3h0M515 727.6h0M514.5 724.9h0M514.7 725.2h0M516.1 727.5h0M519.7 726.7h0M519.9 727.8h0M521.7 727h0M539 724.1h0M540.9 727.9h0M538.6 725.5h0M542.8 727h0M543.1 726.5h0M545.8 725.6h0M571.4 724.8h0M569.1 726.3h0M574.6 724.6h0M579.2 727.5h0M591.6 724.9h0M595.3 727.1h0M595.4 725.8h0M597.2 724.4h0M598.4 728h0M600.9 726.2h0M604.4 727.5h0M605.2 725.6h0M612.6 726.9h0M613.6 726.3h0M613.5 724.6h0M617.1 726.4h0M623.5 726.9h0M621.9 727h0M622.5 724h0M629.2 726.8h0M644.7 725.4h0M641.3 724.2h0M651.6 725.8h0M650.8 727.2h0M652.4 724h0M655.9 727.7h0M653.2 725.7h0M653.9 726.9h0M657.6 725.1h0M657.2 726.7h0M667.2 724h0M458.9 729.1h0M465.8 728.3h0M470.9 728.5h0M471.9 731.5h0M473.8 729.1h0M492.2 728h0M489.8 728.5h0M492.1 729.3h0M494 731.3h0M493.2 730.7h0M512.8 728.3h0M515.2 730.2h0M515 731.2h0M513.8 728.8h0M513.7 729.6h0M524.5 730.9h0M525.9 731h0M530.3 730.6h0M531 730.7h0M533.2 728.1h0M535.9 730.1h0M539.6 728.4h0M560 730.1h0M559 731.1h0M571.7 729.4h0M575.3 729.4h0M575.9 728.6h0M574 728.8h0M577.4 730.1h0M587.5 731.7h0M595.2 728.1h0M597.3 729.4h0M597.6 731.8h0M598.5 731.8h0M605.9 729.8h0M614.7 729.5h0M618 729.5h0M618.7 731h0M621.2 728.6h0M623.1 729.8h0M622.1 729.5h0M630.1 729.9h0M635.2 729.8h0M637.4 728.5h0M641.9 728.3h0M642.2 729.8h0M645.5 729.4h0M658.6 729.8h0M661.9 731.6h0M452.7 732.8h0M465.3 735.2h0M468.2 734.5h0M465.3 735.2h0M471.1 733.9h0M476.3 735.1h0M479.7 736h0M486.6 732.1h0M489.1 734.5h0M490.6 734h0M509.7 735.8h0M514.7 735.2h0M516.5 735.4h0M517.2 735.5h0M521.3 734.1h0M521.2 732.1h0M526.7 735.6h0M529.9 734.6h0M531.1 733h0M534.8 735.3h0M539.4 734.3h0M540.8 732.7h0M544.5 733.4h0M542.4 734.4h0M551.1 736h0M551.4 734.3h0M551.9 735.8h0M552.8 735.2h0M570.9 733.7h0M577.3 735.5h0M577.4 733.6h0M587 734.5h0M590.6 732.3h0M589.4 733.6h0M603.2 734.2h0M612.4 735.9h0M620.5 732.8h0M628 734.7h0M631.2 735.3h0M638.9 733.1h0M638.8 735h0M642.9 732.5h0M643.4 734.8h0M646.6 733.7h0M646.6 733.9h0M656.4 734.5h0M657.2 734.6h0M660.2 735.9h0M459.9 736.2h0M458.1 738.3h0M477.1 737.5h0M491.9 736.6h0M492.7 736.2h0M497.4 739.8h0M504.8 738.3h0M502.9 737.6h0M513.1 736.3h0M516.8 737.4h0M520 737.1h0M519.5 737.2h0M527.8 736.7h0M526.8 737.8h0M528.8 738.5h0M532.5 736.7h0M533.8 737.9h0M535.3 739.8h0M542.2 736.2h0M545.1 737.7h0M551.1 739.6h0M571.7 739.4h0M569.1 739.1h0M574.1 738.7h0M579.6 738.9h0M577.1 736.5h0M583.7 736.5h0M588 736.5h0M589.6 739.1h0M590.6 737.2h0M590.4 737.2h0M593.4 736.9h0M604.7 738.6h0M603.6 738.7h0M607.6 736.8h0M612.3 736.3h0M612.6 738.3h0M621.2 738.5h0M628.5 738.5h0M632.4 737.9h0M633.5 739.4h0M636.9 737.9h0M643.8 738.6h0M643.8 738.3h0M663.8 736.5h0M672.2 738.7h0M451.4 741.7h0M460.4 741.9h0M460.3 744h0M468 743.9h0M470.4 740.1h0M476.8 741.5h0M480.3 742.3h0M478.1 743.9h0M485 741.7h0M485.1 741.3h0M486 741.7h0M489.5 740.6h0M501.2 740.6h0M504.3 740.4h0M507.3 740.1h0M510.5 741.5h0M509.4 742.6h0M514 740.6h0M518.3 743.7h0M519.3 741.1h0M524.6 742.4h0M524.5 743.2h0M527.4 742.1h0M525.7 741.4h0M532.4 740.1h0M534 741.7h0M535.6 743.2h0M536.8 740.4h0M539.5 743.6h0M537.3 742.9h0M537 741.2h0M541.2 741h0M548.1 740.7h0M545.5 740.6h0M546.4 741.3h0M550.7 740.6h0M566.6 740.6h0M572.6 740.2h0M575.7 743.9h0M575.2 742.4h0M580 743.9h0M580.4 740.3h0M586.8 743h0M587.8 741.6h0M589.7 742.4h0M590.8 740.2h0M600.5 741.5h0M600.7 740.8h0M600.1 742.8h0M602 742.9h0M612 740.1h0M616.7 743.4h0M615 743.8h0M615 743.1h0M620.3 743.6h0M618.2 741.2h0M622.9 742.6h0M630.1 743.8h0M633.8 742.8h0M634 740.3h0M633.8 743.1h0M642.5 742.2h0M650.6 740.1h0M661 742.5h0M660.8 742.8h0M661.5 741.3h0M663.3 741.8h0M664.9 740.6h0M662.7 742.3h0M456.7 745.5h0M453.1 745.3h0M454.4 747.4h0M457.9 747.9h0M464.6 744.7h0M463.2 746.8h0M468.1 744.3h0M470 747.1h0M469.3 744.4h0M471.4 745.1h0M480.1 744.6h0M482.3 747.1h0M488.1 746.6h0M486.5 745.9h0M494.2 747.7h0M499.9 747.7h0M500.6 745.2h0M505 745.5h0M519.4 747.8h0M520.9 746.6h0M532.3 745.9h0M535.2 745.7h0M534.9 746.1h0M542.7 744.5h0M545.1 746.9h0M550.8 744.1h0M574.7 747h0M574.6 745.3h0M582.2 747.7h0M581.4 744.2h0M588.3 744.3h0M608.1 746.1h0M607.7 746.8h0M616.8 745.9h0M617.6 744.9h0M627.7 747.9h0M637.8 747.2h0M638.1 744.6h0M648.8 747.7h0M650.3 744.1h0M653.5 746.5h0M658.4 745.6h0M663.1 746h0M666.2 744.1h0M669.9 745.4h0M671.4 745h0M453.1 748.8h0M456.9 748.1h0M459.7 750.8h0M458.8 751.6h0M459.5 750.7h0M469.4 749.5h0M472.5 748.8h0M470.2 751.1h0M469.7 750.3h0M486.6 750.8h0M490.7 749.8h0M493.9 749.2h0M493.8 749.5h0M494.5 749.1h0M498.1 750.8h0M506.6 750h0M507 751.1h0M509.2 748h0M518.6 751.3h0M519.5 749.9h0M526.9 749.8h0M528.1 749.4h0M532.6 748.5h0M532.7 750.4h0M535.2 748.6h0M538.4 749.9h0M539.2 749.1h0M538.6 748.9h0M542 749.1h0M548.6 749.8h0M552 748.7h0M570.6 751.3h0M579.6 750.8h0M581.9 751.1h0M584.6 750.6h0M585.9 751.1h0M587.1 751.7h0M590.8 748.8h0M593.8 749.2h0M597.4 750.2h0M604.8 748.8h0M602.6 750.3h0M608 749.2h0M608.1 749.1h0M612.6 748.5h0M618.8 751h0M624.9 749h0M625.5 750.2h0M636 748.1h0M637.7 748.7h0M640.8 748.7h0M644.5 751.7h0M644.4 752h0M645.3 749.3h0M645.6 751.1h0M650.8 749.1h0M650.3 749.3h0M653.8 750.8h0M656.3 748.3h0M658.7 749.7h0M665.2 748.9h0M670.5 748.6h0M450.2 754.7h0M462.4 753.4h0M464.2 752.9h0M462.7 752h0M468.8 754.6h0M466.2 754.7h0M472.9 752.1h0M470.5 753.3h0M475.9 753.1h0M476.2 755.6h0M475.3 752.1h0M479.1 755.2h0M487.3 752.1h0M495.7 754.9h0M495.7 755.2h0M494.6 753.6h0M508.5 752.1h0M515.5 752.6h0M524 753.8h0M521.3 755.4h0M526.6 753.4h0M534.8 754.7h0M537.2 753.3h0M542.7 755.2h0M544.4 754.7h0M544.4 752.8h0M548.3 753.3h0M547.5 755.7h0M545.7 754.8h0M551.2 752.2h0M558.1 753.1h0M565.1 755.6h0M571.7 755.8h0M575.5 753.2h0M577.4 754.7h0M593.9 755.6h0M596.7 754.2h0M597.5 755.5h0M601.8 753.1h0M602.9 752.4h0M605.2 755.4h0M617.2 753.8h0M617.6 752.2h0M621.6 754.3h0M629.7 754.1h0M634.5 754.4h0M639.7 752.1h0M648.9 752.3h0M650.4 752.1h0M655.5 755.9h0M657.2 752.8h0M658.3 754.8h0M664.6 752.2h0M451 759.1h0M450 756.7h0M457.9 759h0M461.7 756.5h0M466.6 757.6h0M467.4 760h0M470.6 756.1h0M474.4 759h0M480.6 757.8h0M480.1 757.1h0M478.9 758.2h0M479.6 757h0M481.2 758.3h0M483.6 757.7h0M481.4 758.8h0M487.5 756.9h0M492.3 759.6h0M489.1 757.2h0M502.7 758.7h0M503.8 758.7h0M507.6 759.2h0M505.2 758.9h0M510.6 759.1h0M515.6 759h0M521.5 759.4h0M522.4 758.4h0M527.5 757.7h0M529.3 757.5h0M542.6 756.8h0M544 757.9h0M548.9 756.2h0M558.8 756.1h0M570.2 756.3h0M570.3 759.5h0M577.1 759.6h0M578.2 759.2h0M580.8 760h0M583.4 758h0M582.1 757h0M583.8 756h0M586.7 758.3h0M600.9 757h0M600.3 758.4h0M606.7 758.8h0M605.9 756.4h0M613.5 759.8h0M625 756.8h0M642.2 757.5h0M642 757h0M652 759.4h0M649.4 757.6h0M655.4 759.8h0M654.3 757.5h0M656.6 756.4h0M667.8 756.2h0M665.8 758.8h0M665.4 757.9h0M454.9 761.4h0M454.4 760.5h0M456.5 760.8h0M463.2 762.5h0M465.9 763.7h0M465.5 763.5h0M471.3 763.9h0M469.3 760.1h0M473 760.4h0M474.2 763.2h0M477.1 761.5h0M478.9 762.2h0M488.6 760.3h0M497.3 761.5h0M502 760.1h0M507.6 762h0M511 762.5h0M515.7 761.4h0M516.5 762.9h0M515.4 760.7h0M519.4 760.1h0M524.3 763.5h0M524.4 762.8h0M522.1 760h0M534.5 761.1h0M534 761.4h0M537.9 761.7h0M539.5 763.2h0M540.5 761.2h0M547.8 762.3h0M545.9 761.4h0M564.9 761.6h0M572 762.2h0M576.1 763.3h0M575.4 762.2h0M584.7 762.6h0M583.5 762.4h0M589.3 762.2h0M592 762.5h0M595.7 761.3h0M599 761.9h0M598.4 760.5h0M609.8 763.3h0M615.3 763.8h0M619.5 763.8h0M619.1 762.9h0M622.4 761.4h0M621.5 763.5h0M628.7 763.4h0M629.4 761.6h0M642.5 763h0M645.6 763.5h0M648.8 762.5h0M648.5 760.4h0M656.7 761.8h0M655 763.9h0M659.5 760.8h0M666.2 762.2h0M665.5 762.8h0M669 760.6h0M669.1 761.1h0M669.2 761.1h0M451.4 766.4h0M457.2 767.3h0M458.7 767.8h0M457.2 766.8h0M463.5 766.6h0M475.8 766.5h0M474.7 767.5h0M475.3 767.2h0M481.3 765.9h0M496.9 767.9h0M493.4 767.9h0M500.1 765h0M500 767.7h0M500.8 765h0M501.1 765.6h0M509.1 765.9h0M511.1 767.9h0M510.3 767.3h0M509.1 765.9h0M520.7 764.7h0M528.8 766.2h0M531.1 765h0M531.2 768h0M533 767.5h0M537.6 764.4h0M545.2 767.8h0M553.9 767.2h0M563.3 766.2h0M571.3 766.2h0M570.9 767.9h0M580.2 767.1h0M578.7 766.6h0M581.9 766.2h0M585.3 765.3h0M587.5 765.8h0M585.2 765.7h0M592.9 765.5h0M590.3 767.9h0M593.1 766h0M597.9 766.4h0M598 766.3h0M597.5 764.8h0M604.4 767.5h0M608.8 767.3h0M608 765.5h0M606.2 765.4h0M610.9 767.4h0M621.2 767.7h0M623.2 766.8h0M629.7 764.1h0M634.4 765.5h0M640.9 766.6h0M644.6 765.9h0M646.4 767.4h0M649.7 767.2h0M655.6 766.6h0M663.9 764.9h0M664.4 768h0M667.7 766h0M450 771.4h0M453.3 768.9h0M461.1 769.4h0M465.8 770.7h0M470.2 771h0M471.2 771h0M476.1 771.7h0M476.4 771.9h0M482.9 771.4h0M486.3 771.2h0M487.1 768.3h0M488.5 769.7h0M485.1 770.7h0M496.6 770.1h0M501.7 769.3h0M508.3 769.7h0M507.2 772h0M509.9 771.3h0M513.5 770.1h0M520.8 770.5h0M523.7 769.3h0M524.1 771.8h0M533.9 771.5h0M533.2 770.3h0M539 771.9h0M541.3 771h0M544.2 770.5h0M548.3 770.1h0M553.4 769h0M557 771.4h0M570.3 768.8h0M580.2 769.3h0M587.3 768.9h0M585.6 771.2h0M596.8 768.4h0M594 769.7h0M601.5 771h0M608.7 769.3h0M607.6 769.1h0M611.8 769.8h0M610.9 769.5h0M613.1 769.6h0M620.7 771.3h0M620.7 770.7h0M617.9 771.9h0M622 769.1h0M631.5 770.4h0M631.3 769.7h0M631.3 771.1h0M634.6 769.9h0M640.7 771.6h0M643.6 770.2h0M646.8 770.8h0M647.3 770.9h0M647 770.7h0M649.5 769.4h0M655.5 769.7h0M655.1 771h0M653.7 768.9h0M659.5 769.8h0M660.6 769.6h0M662.8 768.3h0M666.9 769.5h0M670.1 769.6h0M672 769.2h0M672 771.3h0M451 109.6h0M453 109.7h0M455 108.4h0M457 109.9h0M459 107.7h0M461 109h0M463 109.8h0M465 109h0M467 108.9h0M469 109.6h0M471 108.6h0M473 108.1h0M475 109h0M477 108.4h0M479 107.4h0M481 107.6h0M483 108.8h0M485 107.9h0M487 109.6h0M489 108.5h0M491 107.5h0M493 107.5h0M495 109.9h0M497 108.4h0M499 108.9h0M501 109.3h0M503 108.7h0M505 110.1h0M507 109.7h0M509 110.3h0M511 107.3h0M513 108h0M515 108.2h0M517 107.5h0M519 109.4h0M521 109.2h0M523 108.2h0M525 109.8h0M527 107.8h0M529 107.7h0M531 107.5h0M533 108.3h0M535 108.8h0M537 109h0M539 107.6h0M541 109.7h0M543 109.5h0M545 109.8h0M547 109.6h0M549 110.2h0M551 109.4h0M553 108.2h0M555 109.7h0M557 108.4h0M559 107.4h0M561 108.8h0M563 110.1h0M565 109.3h0M567 107.5h0M569 107.3h0M571 110.2h0M573 108.7h0M575 107.3h0M577 109.7h0M579 107.4h0M581 109.3h0M583 109.7h0M585 108.7h0M587 109.4h0M589 109h0M591 108.3h0M593 110.3h0M595 108.6h0M597 110.3h0M599 109.7h0M601 108.5h0M603 107.5h0M605 108h0M607 108.7h0M609 110h0M611 109.4h0M613 109.9h0M615 110.1h0M617 108.8h0M619 109.5h0M621 108.9h0M623 108.7h0M625 107.5h0M627 108.4h0M629 109.9h0M631 109.5h0M633 108.9h0M635 109.8h0M637 109.8h0M639 108.5h0M641 110.1h0M643 107.4h0M645 107.4h0M647 110.2h0M649 109h0M651 109.4h0M653 109.2h0M655 109h0M657 109.4h0M659 108.3h0M661 109.7h0M663 110.2h0M665 109.9h0M667 108.7h0M669 108.1h0M671 108.3h0M483 95.3h0M517.3 92.6h0M528.2 101.8h0M541.6 104.5h0M577 93.4h0M584.8 100.9h0M604.3 98.1h0M625.3 91.7h0M647.6 95.3h0M447 910.2h0M450 909.6h0M452.7 910.7h0M455.8 910.7h0M459.3 910.4h0M462.1 910.6h0M464.6 910.1h0M468.5 909.5h0M470.8 910h0M474.2 909.8h0M477.5 909.5h0M480.1 910.4h0M483.2 910.6h0M486.1 909.7h0M489.2 910.4h0M491.6 909.7h0M494.9 910.6h0M498.2 910.2h0M500.7 910.2h0M504.3 910h0M507.4 910.8h0M510.3 909.9h0M513.1 910.5h0M516.2 910.6h0M518.9 910.1h0M521.8 910.3h0M525.2 909.7h0M528.3 909.5h0M531.1 910.7h0M534.4 910.2h0M536.6 909.6h0M539.6 910.5h0M542.9 910.8h0M545.6 909.6h0M548.5 909.6h0M552.1 910.8h0M555 910.5h0M558.3 910.6h0M560.8 909.9h0M564.5 909.6h0M566.6 910.7h0M570.5 909.5h0M573.3 910.3h0M575.9 909.7h0M579 910.5h0M581.8 910.5h0M584.8 910.8h0M588.2 910.6h0M590.8 909.7h0M593.5 910.3h0M597.3 910.7h0M600 909.6h0M603.3 910.2h0M606.5 909.8h0M609.3 909.7h0M611.8 910.7h0M615.3 910.2h0M617.7 910.7h0M621.3 910.3h0M623.7 910.2h0M627.1 910.4h0M629.6 909.8h0M632.7 909.8h0M636.1 910.7h0M638.6 910.5h0M641.6 909.7h0M645.4 910.9h0M647.5 910.6h0M651.2 910.4h0M654.5 910.9h0M656.7 909.6h0M659.7 910.6h0M662.8 910.2h0M665.7 910.9h0M669.4 910.4h0M671.3 760h0M670.7 764h0M670.9 768h0M670.3 772h0M671.7 776h0M670.6 780h0M669.9 784h0M671.7 788h0M670.1 792h0M669.5 796h0M671.1 800h0M670 804h0M670.3 808h0M671.1 812h0M670.8 816h0M670.6 820h0M671.7 824h0M670.3 828h0M670.2 832h0M671.1 836h0M670.6 840h0M669.6 844h0M669.7 848h0M670.9 852h0M670.1 856h0M669.5 860h0M669.6 864h0M671.3 868h0M671 872h0M671.7 876h0M669.9 880h0M669.7 884h0M670.4 888h0M669.8 892h0M670 896h0M669.4 900h0M671.7 904h0M670.2 908h0" stroke="#cccccc" stroke-width="10.2" stroke-linecap="round" fill="none"/>
<path d="M173.4 108.8h0M185.4 108.8h0M189.9 108.8h0M194.3 108.8h0M204.2 108.8h0M215.8 108.8h0M245.7 108.8h0M260 108.8h0M263 108.8h0M276.4 108.8h0M279.4 108.8h0M288.4 108.8h0M212.2 117.5h0M296 107.7h0M297.5 107.9h0M299 109h0M300.5 108.6h0M302 108.1h0M303.5 107.9h0M305 110.2h0M306.5 110.4h0M308 108.9h0M309.5 109.2h0M311 107.9h0M312.5 107.2h0M314 107.6h0M315.5 107h0M317 108.7h0M318.5 107.4h0M320 108.7h0M321.5 107.8h0M323 108.3h0M324.5 107.2h0M326 109.3h0M327.5 109.5h0M329 107.9h0M330.5 109.1h0M332 110h0M333.5 107.7h0M335 109.3h0M336.5 110.3h0M338 109.3h0M339.5 107.4h0M341 107.4h0M342.5 110.5h0M344 109.9h0M345.5 107.4h0M347 109h0M348.5 109.1h0M350 110.1h0M351.5 107.2h0M353 107.8h0M354.5 108.1h0M356 109.6h0M357.5 108.1h0M359 110.5h0M360.5 109.5h0M362 108.8h0M363.5 110h0M365 107.2h0M366.5 110.3h0M368 108.4h0M369.5 109.3h0M371 108.7h0M372.5 109.3h0M374 107.3h0M375.5 108.6h0M377 107.3h0M378.5 107.9h0M380 107.4h0M381.5 108.6h0M383 109.2h0M384.5 108.3h0M386 109.5h0M387.5 109.7h0M389 109.6h0M390.5 107.8h0M392 110.5h0M393.5 109.8h0M395 108.3h0M396.5 110.6h0M398 108.2h0M399.5 110.5h0M401 108.9h0M402.5 107.8h0M404 110.1h0M405.5 109.5h0M407 108.7h0M408.5 107.3h0M410 109h0M411.5 108h0M413 109.1h0M414.5 108.8h0M416 109.1h0M417.5 108.4h0M419 109.1h0M420.5 109.8h0M422 109.8h0M423.5 107.3h0M425 108.9h0M426.5 107.4h0M428 109.5h0M429.5 108.2h0M431 107.3h0M432.5 108.4h0M434 110.6h0M435.5 110.1h0M437 108.8h0M438.5 107.3h0M440 109.2h0M441.5 107.3h0M443 107.3h0M444.5 109.7h0M446 109.6h0M447.5 109.6h0M449 107.6h0M233.5 368.7h0M233.6 370.8h0M233.6 371.3h0M232.7 373.8h0M233 374.7h0M233.6 377h0M233.4 380.2h0M237.2 402h0M236.8 403.8h0M237.4 405h0M237 405.1h0M236.5 406.6h0M236.6 408h0M237.3 409.5h0M239.7 430.6h0M242.2 454.8h0M242.7 456.9h0M243.2 458.9h0M242.7 460h0M243.3 461h0M243.1 463h0M243.2 465.5h0M246.3 490.5h0M250.6 519.7h0M251.4 523.5h0M251.2 526.8h0M252 529.9h0M253 532.2h0M252.9 534.5h0M253.5 536.9h0M254 547h0M253.8 548.4h0M255 550.5h0M254.5 552.9h0M255.8 556h0M256.1 558.9h0M255.9 560.9h0M256 562.4h0M257 564.1h0M256.3 563.6h0M257.1 564.1h0M256.6 565h0M257 565.8h0M257.3 568.7h0M262.2 602.5h0M262.7 605.1h0M263.5 608h0M265 611.6h0M265.3 616.2h0M265.9 618.6h0M266.5 620.4h0M266.7 623.4h0M267.9 626.2h0M267.9 629.9h0M269.3 633.3h0M269.2 636.6h0M270.5 641.6h0M270.9 647.8h0M271.9 650.6h0M272.3 653.3h0M273.6 657.4h0M273.4 661.1h0M274.7 665.8h0M276.3 671.1h0M276.8 675.2h0M278 680.1h0M278.5 684.4h0M279.7 688.7h0M281.5 693.9h0M282.7 698.4h0M282.7 703.5h0M285 707.8h0M285.2 712.5h0M286.8 717.1h0M288.6 721.8h0M288.7 723.9h0M290 726.8h0M290.2 729.1h0M290.3 731.8h0M291.7 734.9h0M292.1 737.5h0M293.5 741h0M293.6 743.9h0M294.6 747.7h0M295.6 750.8h0M297 754.6h0M297.3 758.1h0M299 760.9h0M299.1 764.1h0M300.4 766.8h0M301.3 770.1h0M301.9 773.6h0M302.1 776.6h0M304 779.2h0M304.5 781.5h0M304.7 784.1h0M305.4 787.1h0M305.9 790.2h0M307.1 793h0M308.5 797.2h0M310.7 800.8h0M311.7 804.6h0M313.6 807.7h0M314.2 809.6h0M315.6 811.2h0M317.2 813.1h0M318.9 815.5h0M319.3 816.8h0M320.2 817.5h0M320.6 818.4h0M321.2 819.6h0M321.9 820.9h0M323.3 822h0M324.1 823.9h0M326.2 826.6h0M327.9 829.7h0M330.5 832.8h0M331.9 835.8h0M334.5 838.2h0M335.5 841h0M338.3 843.4h0M339.4 846.2h0M341.9 848.1h0M343.5 850.2h0M345.6 852.9h0M348 855.8h0M349.5 858.9h0M350.9 862h0M353.1 865.4h0M356 868.4h0M357.7 870.3h0M359.9 873.1h0M362.5 875.8h0M364.7 877.9h0M367 880.7h0M369 882.4h0M372.4 885h0M373.9 886.9h0M376.5 888.9h0M379.9 891.5h0M382.2 894.2h0M384.4 895.7h0M387.2 896.8h0M389.9 899.4h0M392.4 900.1h0M396.2 901.3h0M399.6 902.8h0M401.8 902.8h0M404.6 904.1h0M408.1 905.2h0M410.7 905.2h0M413.9 905.9h0M416.6 907.4h0M418.7 907.9h0M420 908h0M285 698.7h0M285.8 701.9h0M285.9 704.7h0M287.4 706.8h0M287.9 709.6h0M288.9 712.8h0M289.1 714.7h0M289.6 717h0M290.2 720h0M291.8 722.2h0M292.3 725.5h0M292.2 727.8h0M293.7 730.8h0M293.5 732.9h0M295.1 735.9h0M295.6 738.3h0M296 740.8h0M296.7 742.9h0M297.2 745.8h0M297.9 748.6h0M298.8 750.7h0M299.7 753h0M299.5 756.2h0M301.1 758.8h0M301.2 760.8h0M301.9 763.3h0M303.1 766.1h0M303.4 769.1h0M303.7 771.6h0M305.4 773.8h0M306.1 776.2h0M306.1 779.7h0M306.8 782.1h0M308 784.2h0M309.3 786.9h0M309.2 789.5h0M310.6 792h0M311.3 794.7h0M312.3 796.8h0M312.7 799.3h0M314 802.5h0M315.6 804.2h0M317.4 806.4h0M318.1 809.4h0M319.4 810.8h0M321.1 813.3h0M322.7 816.4h0M324.4 818.7h0M325.1 820.2h0M327.4 823.4h0M328.5 825h0M329.8 827.7h0M331.6 830h0M333.2 831.9h0M334.9 835.2h0M337 836.7h0M337.7 838.9h0M340.1 841.1h0M341.3 843.7h0M343.4 845h0M345.2 847.1h0M346.1 848.9h0M348.2 851.3h0M349.9 853.3h0M350.6 855.3h0M352.8 857.9h0M353.8 859.9h0M355.8 862.2h0M356.5 864.9h0M358.1 866.5h0M360.2 869.3h0M361.6 871.1h0M363.7 872.4h0M365.2 874.8h0M367.3 876.3h0M369.2 878.1h0M370.7 880.4h0M372.5 881.8h0M374.5 883.3h0M376.2 885.4h0M379.4 886.5h0M381 889.1h0M383.6 890.1h0M385 892.5h0M386.8 893.9h0M389.9 895.8h0M392 897.4h0M395 897.9h0M397 898.6h0M399.7 900h0M402.4 901.2h0M404.7 902.1h0M407.9 903.1h0M410.2 903.7h0M412.4 904.4h0M415 904.1h0M417.3 905.1h0M419.7 905.3h0M422.5 906.5h0M271 384.2h0M274.5 411.9h0M274.6 413.7h0M274 413.1h0M274.1 412.8h0M274.1 412.7h0M273.8 414.3h0M274.3 417.9h0M279.3 466h0M285 515.3h0M289.3 542.2h0M288.9 544.5h0M289.3 547.4h0M290.3 548.5h0M290.3 551.4h0M290 553.6h0M290.6 555.4h0M294.6 575.8h0M294.6 578.1h0M295.6 581.5h0M296 585.2h0M296.2 587.4h0M296.5 590.2h0M296.2 593.2h0M297.6 596h0M297.4 599.5h0M297.9 601.9h0M298.1 604.7h0M299.3 607.6h0M299.3 611.2h0M299.1 613.8h0M300.3 616.8h0M300.8 618.9h0M301.1 621.4h0M301.1 624h0M301.8 627.9h0M302 630.9h0M302.4 634.4h0M303.1 637.8h0M303.5 641h0M304.7 644.5h0M305.3 647.5h0M305.6 650.3h0M306.2 651.8h0M306.1 654.4h0M307.1 659.3h0M308.5 663.5h0M309.3 667h0M309.7 669.1h0M309.4 671.3h0M310.8 675h0M310.6 678.5h0M311.4 682.8h0M312.4 684.9h0M312.7 687.8h0M314 691.4h0M313.7 693.8h0M315.2 696.5h0M315.2 699.4h0M316 702.2h0M316 705.5h0M317.2 707.8h0M318.1 710.8h0M318.9 713.3h0M319.3 714.8h0M320 717.9h0M320.3 720.8h0M321.7 722.4h0M322.3 725.4h0M323.9 730.8h0M325.1 734.7h0M326.6 738.1h0M327 740.4h0M327.8 743.1h0M328.3 743.6h0M328.5 744.7h0M328.7 746.3h0M329.7 747.5h0M329.9 750.4h0M330.9 751.3h0M332.3 753.1h0M332.7 755.7h0M332.9 757.9h0M333.6 759.7h0M334.4 761.9h0M335.3 764.7h0M336.7 767.9h0M336.5 770h0M337.3 772.4h0M338.5 775.3h0M339.8 777h0M340.3 780.5h0M340.6 782.3h0M341.7 785.8h0M342.7 787.6h0M344.1 790h0M343.8 791.9h0M345.2 792.9h0M345.6 794.5h0M345.5 795.8h0M346.7 798.1h0M348.1 799.6h0M349.5 802.7h0M351.2 807.4h0M353.1 811.5h0M354.6 813.5h0M356 816.4h0M356.8 818.1h0M358 820.8h0M360.2 824.7h0M362.3 829.7h0M364.2 833.6h0M366.1 837.7h0M368.5 842.3h0M370.3 845.8h0M372.6 849.4h0M374.3 853.3h0M377.2 856.6h0M378.2 858.2h0M380.4 860.8h0M382.5 863.7h0M384.9 866.2h0M387 867.8h0M389.4 870.3h0M391.7 871.8h0M393.5 874h0M395.9 876.5h0M397.6 878h0M400.6 880.6h0M401.6 882.1h0M403.7 883.9h0M405.9 886h0M407.5 888.4h0M409.5 890h0M412.7 892.1h0M415 893.9h0M416.8 894.9h0M420.1 897.3h0M422.9 899h0M424.8 900.3h0M427.1 901.1h0M430.9 902.1h0M433.3 903.1h0M435.7 904.5h0M437.8 904.8h0M440 906h0M327.9 740h0M328.6 741.9h0M330.1 744.9h0M331.1 747.3h0M331.5 749.2h0M332.6 751.8h0M333.2 754.9h0M334.2 756.4h0M335.5 759.5h0M336.4 761.7h0M336.6 763.7h0M336.9 767h0M338.1 769.6h0M339.3 771.2h0M339.5 774.7h0M340.7 776.9h0M341.2 778.8h0M342 782h0M343.7 784.6h0M344.4 787.3h0M344.5 789.5h0M346.3 792h0M347.2 794.5h0M348.1 796.6h0M348.4 798.8h0M350.6 801.3h0M350.9 803.9h0M352.6 806.4h0M353.9 807.8h0M354 810.5h0M356 813.4h0M356.9 815.2h0M357.8 817.9h0M358.6 819.9h0M360.5 822.2h0M361.8 824.8h0M362.3 825.9h0M363.6 829.1h0M364.1 831.2h0M365.7 832.8h0M366.3 835.4h0M368 838.4h0M369.4 840.3h0M370.8 841.8h0M371.6 844.8h0M372.5 846.5h0M373.9 849.1h0M374.8 851h0M376.9 852.7h0M378.6 855.3h0M379.4 856.7h0M381.6 859.7h0M383.5 860.9h0M385.1 862.9h0M386.2 864.8h0M388.7 866.7h0M390.1 868h0M392.1 870.6h0M393.8 872.4h0M396 873.6h0M396.9 875.8h0M398.9 877.4h0M400.9 879h0M403.1 881.7h0M405.6 883.3h0M407.3 885.7h0M409.2 887.5h0M410.8 889.8h0M413.4 890.3h0M415.5 892.3h0M417.8 893.3h0M420 894.3h0M421.9 896h0M424.6 898.3h0M426.2 899.6h0M428.7 900h0M431 901h0M434.2 902.3h0M435.7 902.9h0M439.1 903.7h0M441.2 905.2h0M306.2 383.6h0M307.4 386.3h0M306.5 389.4h0M306.7 392.3h0M307.2 394.9h0M307 398.6h0M308.7 417.5h0M308.9 420.4h0M310.4 423.1h0M310.2 425.7h0M313.1 451.1h0M313.1 453.3h0M313.3 457.3h0M313.9 459.3h0M314.7 461.7h0M314.1 464.8h0M315 468.3h0M315.6 470.8h0M315.4 472.8h0M316.3 481.3h0M316.2 484.3h0M317 486h0M317 489h0M316.6 491.6h0M317.1 494.1h0M317.8 497.2h0M317.5 499.2h0M317.8 502.4h0M319.8 513.8h0M320.4 516.6h0M321.2 519.4h0M320.4 521.4h0M321.5 524.6h0M321.6 527.4h0M322 529.8h0M322.1 532.1h0M322.7 534.8h0M322.7 537.6h0M323.3 539.9h0M325.8 560.3h0M326.6 563.1h0M327 565.6h0M327 568.5h0M327.3 570.5h0M327.1 573.9h0M327.5 575.7h0M327.3 578.5h0M328.2 581.8h0M328 584.1h0M328.7 586.2h0M329.2 589.4h0M329.2 599.9h0M330.4 602.7h0M330.3 605h0M331.5 607.2h0M331.5 610.3h0M332 612.4h0M332.4 615.2h0M332.8 616.7h0M333.2 620.3h0M334.6 622.5h0M335.2 624.3h0M335.9 627.6h0M336.3 630.2h0M335.8 632.3h0M336.9 634.7h0M336.9 637.6h0M337.5 639.5h0M337.8 643h0M338.6 644.7h0M340 647.5h0M339.5 649.7h0M340.4 652.3h0M340.8 655.5h0M341.5 657.2h0M342.2 659.5h0M342.6 662.6h0M342.8 664.9h0M343.4 668h0M343.8 669.7h0M344.4 673.1h0M344.8 675.2h0M344.1 677.3h0M345.5 680h0M346.1 682.5h0M346.6 685h0M346.2 687.4h0M347.2 690.7h0M347.9 693.2h0M347.9 695.7h0M347.7 697.5h0M348.7 699.6h0M349 703.3h0M350 705.4h0M349.9 708.1h0M350.4 710.1h0M351.7 712.9h0M351.9 714.8h0M353 717.8h0M353.8 719.8h0M354.7 722.4h0M355.2 725.5h0M355.7 727.4h0M357 730.5h0M357.9 733.4h0M358 735.1h0M359.5 738.1h0M360.2 740h0M361.5 743h0M361.9 744.8h0M362.7 748h0M363.8 750.3h0M363.8 752.6h0M365.5 754.8h0M366.4 757.8h0M366.7 759.8h0M367.3 762.1h0M369.1 764.8h0M368.8 767h0M369.7 770.3h0M371.1 772.2h0M372.1 774.8h0M373.3 777.2h0M374.9 780h0M376.2 781.6h0M377.6 783.4h0M378.5 786.1h0M380.3 787.8h0M381.1 790.7h0M382.6 792.8h0M384.1 794.5h0M384.9 796.8h0M386.8 799.4h0M387.5 801.7h0M389 803.7h0M389.9 806.9h0M391.8 808.9h0M392.6 811.5h0M394.9 813.6h0M396.1 816.2h0M397.1 818.2h0M397.8 820h0M398.8 822.1h0M400.2 824.3h0M400.8 826.9h0M401.8 829.3h0M403.1 831.5h0M404.2 834.1h0M405.1 835.5h0M406.8 838.2h0M407.2 840.5h0M409 842.6h0M409.4 845.6h0M410.6 847.5h0M412.2 849.2h0M413 852.4h0M415.2 854.1h0M416.1 856.4h0M417 859.1h0M418.3 861.1h0M418.8 863.2h0M420.3 865.4h0M421.8 868.7h0M422.4 870.8h0M423.6 872.2h0M425.2 875.3h0M426.9 877.5h0M428.1 879.7h0M428.6 881.3h0M429.9 884.1h0M432 886.9h0M433.8 888.2h0M434 891.3h0M435.8 893h0M437 895.8h0M439.2 897.8h0M440 900h0M324.9 372.1h0M325.5 374.5h0M325.3 377.4h0M325.3 380.1h0M325.8 383.1h0M325.9 385.4h0M326.6 388.3h0M326.8 390.1h0M327.1 392.5h0M326.8 395.6h0M327.2 398.5h0M326.9 400.2h0M327.7 403.5h0M327.9 405.2h0M327.5 407.8h0M327.9 410.5h0M328.7 421.8h0M329.1 424.3h0M329 426h0M329.6 429.1h0M330.3 431.6h0M330.9 434.5h0M330.5 436.6h0M330.2 439.6h0M330.5 442h0M330.7 444.8h0M331.1 447h0M331.3 450.1h0M331.4 452.1h0M331.4 455.2h0M331.7 456.8h0M331.1 460.2h0M331.3 462.4h0M331 465.1h0M331.3 467.4h0M332 469.7h0M331.8 472.8h0M332.4 475.2h0M331.8 477.3h0M331.8 479.6h0M333 482.2h0M333 484.9h0M333.7 487.9h0M334 489.6h0M334 493.1h0M334.1 494.6h0M334.5 497.8h0M335.8 499.7h0M336.1 501.9h0M336.7 505.1h0M337.1 507.5h0M337.2 510.1h0M337.2 512.9h0M337.6 514.8h0M337.6 517.5h0M338.7 520.2h0M338.8 522h0M339.6 525.4h0M339.6 527.7h0M339.8 529.4h0M340.5 532.2h0M340.4 535.3h0M341.2 537.9h0M341.4 540.1h0M342.4 542.2h0M342.4 545.5h0M342.7 547.5h0M343.8 549.9h0M343.6 552.2h0M344.3 554.5h0M344.3 557.3h0M345.3 559.6h0M345.4 561.9h0M345.8 565.4h0M345.5 567.4h0M346.7 570.4h0M347 572.4h0M346.4 575.2h0M347.4 577.7h0M347.1 579.9h0M347.4 582.3h0M348.1 585h0M348.1 588h0M349.3 589.7h0M349.5 592.5h0M349.9 594.7h0M350.4 597.7h0M349.9 599.8h0M350.7 602.7h0M351.3 605.5h0M351.2 607.2h0M351.6 609.8h0M351.8 612h0M352 614.6h0M352.5 616.9h0M352.2 619.7h0M352.7 622.7h0M353 625h0M353.9 627.2h0M353.8 629.4h0M354.4 632.4h0M354.5 635.2h0M355.9 637.8h0M355.5 640.4h0M356.8 642.6h0M356.5 645.2h0M357.8 647.1h0M357.4 649.7h0M359 652.5h0M359 655.1h0M359.8 657.2h0M360 660.2h0M361 662.1h0M361 664.9h0M361.7 667.3h0M361.8 670.5h0M362 672h0M362.5 675h0M363.5 677.1h0M364.2 680.1h0M365.3 682.8h0M366.2 685.3h0M366 687.1h0M367.5 689.6h0M368 692.5h0M369.1 694.6h0M370.1 697.8h0M370.5 700h0M372 702.4h0M372.2 705.5h0M373.5 707.8h0M374 709.8h0M374.4 712.9h0M375.2 715.3h0M376.2 717.7h0M377.7 720.5h0M378.5 722.7h0M379.1 724.8h0M380.2 727.7h0M380.8 729.7h0M381.3 731.9h0M381.4 734.5h0M382.8 738.1h0M383.2 740.3h0M384.6 742.5h0M385.6 744.8h0M386.2 747.6h0M386.8 749.7h0M387.5 752.5h0M387.9 755.1h0M389.6 757h0M390.5 760h0M390.4 763h0M391.2 764.9h0M392.8 767.3h0M393.6 769.9h0M394.1 772.8h0M395.3 775.5h0M395.9 777.3h0M396.3 779.5h0M397.7 782.3h0M398.5 784.9h0M399.1 787.3h0M399.3 789.6h0M400.7 792.5h0M401.8 794.9h0M402.3 797.5h0M403.1 799.6h0M404.5 802.6h0M405.7 805.1h0M406.7 807.6h0M406.8 809.3h0M408.2 811.5h0M408.4 813.9h0M409.4 817h0M410.1 819.2h0M411.3 821.1h0M412.3 824.1h0M413 826.5h0M413.5 827.9h0M414.4 830.9h0M415.8 833h0M416.8 835.5h0M417.9 838.4h0M418.7 840.2h0M419.3 842.4h0M420.3 845.2h0M421.5 846.9h0M422.1 849.2h0M422.2 852.4h0M423.7 853.7h0M425 856.6h0M425.7 859.1h0M426.3 861.8h0M427.5 864h0M428.6 866.2h0M429.9 868.5h0M430.6 870.9h0M431.3 873.1h0M432.7 874.8h0M433 877.4h0M434 880h0M337.6 479.8h0M338.8 481.9h0M339.3 484.7h0M339.7 487.4h0M340.3 490h0M340.7 493h0M340.7 494.9h0M341.5 497.3h0M341.7 499.7h0M341.9 502.1h0M341.8 504.6h0M342.6 507.6h0M342.9 510.2h0M343.4 512.1h0M343.7 514.6h0M344.5 517.5h0M345.3 520.4h0M346 522.9h0M345.3 524.8h0M346.7 527h0M346.5 530.6h0M347.1 532.3h0M347.1 534.7h0M347.8 537.8h0M348.3 540.5h0M349.2 542.5h0M349.3 544.5h0M349.4 547.3h0M350 549.8h0M350.5 552.2h0M351.1 555h0M351.2 557.2h0M351.8 560.3h0M352.4 562.6h0M352.9 565.6h0M353.6 568h0M353.5 569.8h0M354.2 572.2h0M354.2 574.7h0M354 577.7h0M354.8 580.3h0M354.8 581.9h0M355 584.4h0M355.3 587.1h0M355.8 590.4h0M356.2 592h0M356.1 594.7h0M357.1 597.7h0M357.6 599.9h0M357.5 602.1h0M357.7 604.6h0M357.7 607.9h0M357.9 610.4h0M359.2 612.6h0M358.8 614.8h0M359.6 617.3h0M359.6 619.5h0M360.3 622.8h0M360.1 625.5h0M360.9 627.2h0M361.5 629.8h0M361.2 632.8h0M361.9 634.9h0M361.8 637.6h0M362.6 640.2h0M362.2 642.3h0M362.5 645.5h0M363.5 647.8h0M363.9 649.4h0M363.6 652h0M364 655.4h0M363.8 657.2h0M364.2 659.7h0M364.2 662.6h0M365.1 665h0M365 667.6h0M365.4 670.4h0M365.6 672.2h0M365.9 674.6h0M365.9 677.5h0M366.7 679.9h0M366.6 682.3h0M367.7 685.3h0M367.2 686.9h0M367.7 689.5h0M367.8 692.9h0M368.9 694.6h0M368.7 697.6h0M369.6 699.8h0M369.2 702.7h0M370 705.1h0M370.8 706.9h0M371.6 709.4h0M372.3 712.5h0M373.6 715h0M374.8 717.4h0M374.9 720.1h0M376.2 723.1h0M376.5 724.7h0M377.1 727.7h0M378.2 730.2h0M378.7 732.7h0M378.9 734.5h0M379.4 737.3h0M380.9 739.4h0M381.7 743.1h0M382.5 745.5h0M383.2 746.9h0M382.9 750.1h0M383.8 752.2h0M384.3 755.3h0M385.1 756.9h0M386 760h0M336.4 98.2h0M344.9 93.5h0M340.3 96.6h0M351.1 96.6h0M365.1 94.3h0M362 99.7h0M375.9 93.5h0M390.7 92.7h0M346.5 102h0M312.4 103.6h0M358.4 96.2h0M338.7 118.3h0M346.5 123.7h0M362 116h0M374.4 111.3h0M352 114h0M307.8 148.8h0M264.5 197.4h0M291.6 212.4h0M222.8 258.1h0M317.9 229.8h0M315 252h0M315 255h0M297.7 281.2h0M311.8 303.5h0M319.9 312h0M302.5 346h0M322 343h0M322.8 353.3h0M291.6 452.5h0M271 384h0M237 399h0M399.7 152.9h0M419 140.7h0M427.2 132.6h0M423 136.5h0M417.9 183.2h0M434.9 209.6h0M415 231h0M433.7 237.9h0M436.1 269.1h0M402.9 273.5h0M432 283.2h0M419.1 291.3h0M445.4 291.7h0M433.3 295.8h0M393.2 287.7h0M398.9 309.6h0M399.7 329h0M437.3 312.8h0M439.4 317.6h0M428 352h0M437.7 368.3h0M390.8 366.6h0M392.8 385.7h0M442.2 386.9h0M407 402.7h0M409 407.1h0M425.2 415.6h0M436.1 429h0M436.1 436.3h0M402.9 431h0M417.5 435h0M406.2 444.4h0M405 452.5h0M392.8 436.3h0M413 472h0M418 478h0M425 474h0M430 482h0M435 490h0M420 488h0M428 494h0M412.9 493h0M421 492h0M434.1 497.1h0M412.9 514.3h0M441.2 521.3h0M446.3 521.3h0M440.2 537.5h0M405.8 542.6h0M436.1 551.7h0M435.1 556.7h0M447.3 552.7h0M408.9 562.8h0M412.9 566.8h0M419 573.9h0M436.1 567.8h0M444.2 576.9h0M431.1 579h0M427 585h0M405.8 583h0M396.7 593.1h0M422 600.2h0M429.1 600.2h0M435.1 599.2h0M441.2 596.1h0M446.3 601.2h0M410.9 609.3h0M436.1 616.4h0M412.9 624.5h0M440.2 627.5h0M446.3 631.5h0M435.1 635.6h0M411.9 641.6h0M427 645.7h0M431.1 651.7h0M425 655.8h0M419 659.8h0M413.9 663.9h0M416.9 669.9h0M394.7 649.7h0M441.2 667.9h0M443.2 673h0M431.1 678h0M416.9 684.1h0M446.3 692.2h0M396.7 661.9h0M357.9 778.6h0M358.9 810.6h0M369.2 810.6h0M334.1 822h0M338.2 830.2h0M352.7 837.5h0M302.1 849.9h0M341.5 878h0M321.3 890h0M369 892h0M377.7 901.5h0M391.2 904.2h0M397.9 904.8h0M299.4 693.6h0M341 763.6h0M346.3 766.8h0M345.3 731.8h0M353.8 744.5h0M351.6 756.1h0M358 757.2h0M358 778.4h0M367.6 121.7h0M383.1 118.7h0M332.4 124.7h0M383 122.6h0M333.4 129.6h0M341.6 126.5h0M358.3 129.6h0M370.3 126.7h0M376 126.6h0M380.5 128.6h0M334.7 132h0M342.2 131.6h0M350 131.7h0M372.8 131.6h0M362.3 136.4h0M377 134.6h0M387.7 137.5h0M350.6 138.7h0M362.7 141.9h0M376.2 140.7h0M337.2 142.1h0M339 144.6h0M343.1 144.6h0M347.7 146.6h0M356 147.9h0M358.1 146.7h0M366.4 147.2h0M379.3 149.8h0M380.8 151.7h0M385.2 152.7h0M387.2 156.9h0M342.2 160.8h0M354 158.2h0M353.8 160.4h0M357.6 161h0M377.7 160.3h0M381.1 158h0M387.6 159.4h0M356.5 165h0M380 162.6h0M333.9 168.4h0M354 167.7h0M358.2 166.5h0M365.1 169.3h0M370 169.2h0M380.1 167.7h0M348.9 171.1h0M367.5 173.6h0M368.5 173.4h0M374.4 170.3h0M381.9 177.7h0M373.8 181.3h0M380.5 180.5h0M381.4 180.7h0M336.9 186.6h0M369.8 187h0M353.4 190.4h0M360.1 190.6h0M380.1 192.4h0M362.6 194.9h0M360.9 194.5h0M359.7 199h0M366.9 199.6h0M383.7 200.5h0M349.9 203.9h0M360.4 205.5h0M335.1 208.2h0M346.3 208.6h0M359.1 206.3h0M340.1 211.8h0M346.2 213.7h0M334.6 215.2h0M355.3 214.9h0M374.1 214.3h0M381.5 217.4h0M332.8 218.1h0M338.4 220h0M358.2 220.8h0M372.5 221.5h0M382.9 218.5h0M360.3 222.1h0M366.8 222.7h0M336 229.6h0M362.5 228.4h0M386.1 228.7h0M384.4 228.7h0M387.9 228h0M336.6 233.8h0M340.3 233.8h0M344.6 233.1h0M337 234h0M343.2 237.8h0M345.1 234.2h0M376.2 236.7h0M334.3 238.6h0M345.2 240.6h0M358.5 239.6h0M360.5 239.3h0M377.3 238.4h0M333.1 245.6h0M334.9 249.6h0M359.8 248.7h0M366.4 249.4h0M338.1 253.8h0M338.4 253.4h0M350.2 253.3h0M356.3 250.3h0M367.9 254h0M377.4 253.7h0M338.1 257.1h0M347.7 254.7h0M349.4 257.5h0M353.2 255h0M353.4 256.3h0M364.7 257.9h0M370.9 256.9h0M370.5 257h0M338.1 259.9h0M360.2 260.1h0M378.2 264.6h0M387.3 264.4h0M342.4 268.2h0M347 268.5h0M350.4 267h0M368.4 268.5h0M373.6 269.1h0M362.1 273.5h0M369.3 277.4h0M383.1 276.4h0M384.3 276.6h0M367.7 278h0M366.9 281.5h0M366.9 280.9h0M381 279.5h0M381.2 281.5h0M384.2 278.1h0M342.3 287.6h0M351.7 288.2h0M380 289.3h0M345.3 293.6h0M349.8 292.8h0M348.7 291.6h0M351.8 290.5h0M352.9 291.4h0M356.6 292.7h0M368.7 291.9h0M341.9 295.2h0M344.2 297.1h0M351.4 296h0M382.7 294.3h0M355.3 299.7h0M367.8 300.3h0M341.1 304.8h0M343.3 303.7h0M352.8 303.8h0M371.4 302.6h0M378.4 303.9h0M387.7 302.1h0M350.2 309h0M353.2 306.2h0M380.8 306h0M338.4 313.8h0M363.6 312.3h0M364.8 313.9h0M381.3 312.6h0M349.3 317.4h0M339.3 321.1h0M343 320.5h0M367.5 321.9h0M366.4 318.9h0M376.3 322h0M386.2 318.5h0M335.7 325.1h0M336.8 325.2h0M355.5 325.2h0M365.8 324.8h0M369.3 324.6h0M341.9 329h0M340.3 326.1h0M353.4 326h0M356.8 327.9h0M376.5 333.7h0M354.9 345.3h0M356.9 343.8h0M341.2 347.9h0M354 347.5h0M338.8 351.5h0M337.6 351.4h0M351.2 350.9h0M354.5 353.7h0M358.9 351.8h0M383.8 351.9h0M341.6 355.7h0M346.8 355.9h0M350 356.1h0M350.7 354.9h0M378.2 355.4h0M378.6 355.6h0M387.1 355.5h0M338 359.7h0M357.9 358.2h0M361.1 358.7h0M333.3 364.8h0M343 363.6h0M360.2 362.9h0M364.1 363.8h0M369.9 364.2h0M372.8 365.5h0M332.6 366.1h0M362.9 367.4h0M356 370.4h0M379.4 373.6h0M381.5 370.2h0M383.8 373.4h0M354 374.5h0M354.1 375.3h0M355.8 376.1h0M359.3 374.3h0M371.7 374.6h0M377 376.3h0M340.7 381.6h0M350.1 380.4h0M360.8 379.8h0M384 379.8h0M339.4 385.6h0M347.7 382.4h0M348.6 384.3h0M355.6 382.4h0M357.7 382.2h0M357 385.4h0M370 385.8h0M374.2 384.3h0M377.5 383.9h0M382.3 384.5h0M339.4 388.9h0M340.1 387.2h0M346.4 386.7h0M363.3 388.6h0M351.8 392.4h0M375.2 391.4h0M345.5 395.5h0M345.8 396.9h0M356.7 397.4h0M364.2 396.4h0M366.9 394.3h0M368.2 394.3h0M369.9 394.4h0M369.1 395.6h0M374.5 394.7h0M380 397.3h0M382 394.3h0M381.5 394.5h0M343.4 399.3h0M349.6 398.3h0M354 399.5h0M362.4 399.4h0M342 403.8h0M345.4 405.5h0M350 403.2h0M348.5 405.9h0M360.3 403.7h0M362.2 405.1h0M380.7 405.5h0M345.7 409.2h0M344.8 408.4h0M354.3 406.3h0M363.8 409.6h0M382.2 407.3h0M340.1 413.3h0M341.1 412.5h0M355.1 413h0M362.8 410.9h0M360.2 412.9h0M371.5 410.1h0M344.5 416.4h0M344.3 414.9h0M354.6 415.4h0M373.9 416.2h0M379.5 414.9h0M380.8 416.9h0M344.1 418.1h0M359.8 419.7h0M361.8 420.1h0M350.4 424.7h0M378.8 423.7h0M381.3 425.2h0M388.6 422.9h0M367.4 426.9h0M374.8 427.9h0M341.6 431.9h0M345.6 430h0M349.3 433.6h0M342 436h0M340.3 435.5h0M357.6 438h0M370.9 434.5h0M356.3 444.4h0M381.1 445.9h0M338.3 449.1h0M358 447.1h0M362.6 449.3h0M364.2 447.9h0M369.4 448.9h0M346.7 450.2h0M354.6 452.8h0M356.2 451.4h0M370.2 450.3h0M353.6 458h0M363.9 454.1h0M362.6 457.7h0M364.1 455.8h0M370.9 457.3h0M368.8 457h0M379.8 457.7h0M366.3 459.2h0M370.8 458.7h0M339.1 464.5h0M346.5 464.1h0M350.3 462.7h0M356.2 463.5h0M362.4 465.8h0M370.1 465.9h0M369.5 463.8h0M374.4 465.5h0M383.4 464.5h0M385.1 462.3h0M385.5 462.8h0M364.7 467.3h0M370 468.1h0M386.9 467.1h0M388.2 469.2h0M346.3 473.7h0M350.6 473.8h0M348.7 471.1h0M352.5 472.1h0M364.3 473.7h0M371.8 472.1h0M374.9 472.4h0M374.6 471.9h0M346.3 476.5h0M351.8 476.2h0M360.1 477.1h0M371.8 477.3h0M381.6 476.6h0M390.3 476.2h0M351.7 480.9h0M355.1 481.1h0M355.5 479.6h0M359.2 478.4h0M363.6 480h0M360.5 481.6h0M368 478.4h0M391.4 478.4h0M354.3 482.3h0M362 485.4h0M365.4 484.4h0M371.7 484.9h0M386.5 483.1h0M385.5 483.7h0M391.6 482h0M345.2 487.3h0M363.7 486.5h0M364 487.4h0M347.6 492.7h0M351.1 490.8h0M361.7 491.5h0M362.7 493.3h0M361.3 493.8h0M370.2 491h0M375.5 492.1h0M376.4 492h0M386.9 490.2h0M353 494.3h0M365.9 496.4h0M369.3 494.8h0M378 495.2h0M382.6 497.2h0M385.7 495.5h0M385.4 497.3h0M353.8 499h0M359.5 499.1h0M372.3 499.6h0M387 498.3h0M391.8 498.3h0M392.9 499.1h0M365.8 502.2h0M370.3 504.1h0M377.1 505.6h0M380.9 502.8h0M392.9 504.8h0M363.1 507.6h0M369.9 508.7h0M372.8 509.9h0M351.5 512.6h0M351.1 511.9h0M354.9 513.7h0M360.2 513.7h0M371.8 511.2h0M374.2 513.5h0M378.9 513h0M390.2 511.3h0M365.6 516.2h0M384.9 516.5h0M384.8 515.4h0M360 518h0M362.6 520.4h0M364.9 520.9h0M371.6 519.8h0M373.2 520.7h0M387 520.8h0M388.3 521.4h0M394.3 520.2h0M356.2 524.1h0M359.5 525.3h0M359.5 526.3h0M358.7 526.1h0M363.3 528.9h0M364.6 532.7h0M371.7 531.3h0M388.9 533.4h0M395.2 531.9h0M364.5 536.2h0M375.1 536.5h0M376.1 537h0M358.4 540.4h0M360.5 538.7h0M363.4 539.6h0M370.5 539.2h0M377.6 538.9h0M390.1 539.9h0M368.9 545h0M373 544.8h0M376.9 544h0M377.7 543.9h0M379.9 545.6h0M376.4 545h0M379.9 544.6h0M382.2 545.8h0M393.9 545.1h0M362.9 549.9h0M375.5 546.8h0M378.6 549.3h0M386.9 547.9h0M358.8 557.6h0M376.4 557.2h0M391.2 557.3h0M371.5 561.7h0M369.7 559.7h0M379.2 558.5h0M387.7 561.9h0M391.1 560.8h0M363.9 563.8h0M367.4 563.2h0M366.1 562.4h0M370.3 563.5h0M372.1 562.4h0M379.3 562.2h0M398.1 562.1h0M361.1 568.1h0M367.6 569.5h0M370.4 568.6h0M374.3 567h0M386.9 569.6h0M364.9 574.1h0M369.7 574.4h0M387 577.6h0M362.5 579.9h0M370.1 581.2h0M371.8 579.6h0M388.1 580.8h0M376.2 584.2h0M381.9 585.3h0M384.8 584h0M387.9 583.6h0M368.1 587h0M372.1 588.1h0M393.1 588.4h0M398.1 587.7h0M362.6 594h0M378.5 590.6h0M380.7 594h0M383.3 592.8h0M393.4 590.3h0M366.6 594.7h0M375.9 595.7h0M386.4 596.4h0M387.5 595.5h0M361.9 601.3h0M368.9 601.2h0M379.4 600.9h0M386.7 598.2h0M390 601.9h0M363.6 605.5h0M364.1 603.2h0M369.9 603.3h0M377.1 604h0M378.8 603h0M381.1 603.9h0M385.9 605.5h0M386.4 602.1h0M368.8 609.6h0M376.6 609.2h0M385.8 607h0M390.3 608.2h0M369.6 613.5h0M383 613h0M383 613.1h0M373.3 617.7h0M383.1 617.3h0M381.7 618h0M388 616.8h0M396 616.6h0M396.4 615.6h0M381.9 622h0M384 620.3h0M383.2 618.9h0M380.5 618.1h0M387.4 619.8h0M389.7 621.7h0M392.4 620.1h0M364.4 624.3h0M374.3 624.6h0M381.2 622.7h0M393.7 629.6h0M398.5 627.7h0M403.9 626.9h0M383.3 630.8h0M391 631.5h0M381.6 637.8h0M385.4 637.1h0M385.7 637.4h0M392.9 636.2h0M367.8 639.1h0M371.2 638.3h0M368.8 638h0M377.4 638.2h0M380.1 641.6h0M384.5 641.9h0M389 640.7h0M381.3 643.6h0M384 645h0M392.9 643h0M392.4 648h0M400.7 646.5h0M377.4 653.3h0M382.9 650.8h0M382.2 651h0M398.3 652.9h0M396.8 653.1h0M404 651.5h0M373.6 657.6h0M395.3 654.7h0M369.1 659.5h0M396.5 658.2h0M384.7 662.3h0M424.1 665.9h0M371.4 666.4h0M382.1 667.6h0M380.2 667h0M383.6 669.1h0M386.2 668.5h0M403 666.9h0M434.8 669.4h0M434.1 666.5h0M372.4 672.2h0M399 670.3h0M441 670.6h0M374.3 674.8h0M390.2 674.9h0M389 675.3h0M401.3 676.4h0M428.1 676.1h0M379.4 678.5h0M389.5 681.9h0M395.2 681h0M375.8 684.5h0M377.1 683.8h0M382.9 682.2h0M387.8 682.6h0M389.4 682.2h0M419.5 682.6h0M377.2 689.8h0M387.4 688.5h0M385.7 686.7h0M384.9 687.4h0M386.1 687.5h0M378.5 690h0M378 691.8h0M433.7 691.6h0M436.5 690.4h0M375.1 694.3h0M389.8 695.5h0M409.4 695.2h0M388.3 701.7h0M401 700.7h0M417.1 698.6h0M438.7 699h0M445.8 698.9h0M444.9 699.6h0M390.9 704.9h0M393 705.4h0M420.9 705.9h0M387.2 706.7h0M391.2 707.5h0M420.3 707h0M410.6 711.6h0M428.4 713.5h0M391.1 715.3h0M398.6 714.9h0M414.2 715h0M426.1 715.1h0M440.6 714.8h0M447.6 718h0M407.2 720.3h0M414.7 720.1h0M415.3 722.5h0M437.7 722.2h0M447 723.5h0M401.6 728.6h0M430.8 728h0M430.6 727h0M434.2 729.5h0M442.7 728.6h0M441.3 729.2h0M392.1 732.3h0M413.9 730.6h0M431.6 731.9h0M445.8 733.7h0M400 736h0M418.2 734.6h0M429.6 735.4h0M446.1 734.5h0M424.9 739.3h0M440.9 741h0M391.3 745.7h0M391.5 743.1h0M408.1 742.9h0M414.1 745.9h0M414.6 742.5h0M416.4 745.6h0M423.5 745.7h0M429.3 744.9h0M434.2 744.6h0M439.5 744.1h0M447.4 742.2h0M446.9 742.8h0M444.4 742.4h0M390.8 747.4h0M407.4 748.9h0M417.7 748.9h0M427.7 749.1h0M429.1 748.1h0M436.4 747h0M448 746.4h0M388.2 752.8h0M392.6 753.4h0M399.7 751h0M426.2 750.5h0M428.2 753.3h0M438.1 750.4h0M444.7 751.5h0M396.2 755.2h0M396 754.3h0M407.4 756.7h0M407.1 755.1h0M428.5 755.7h0M438.7 755h0M436.4 755.2h0M401.1 761.7h0M422.1 760.4h0M423 760.8h0M439 760.2h0M443.8 761.1h0M445.2 761.3h0M395.7 765.8h0M406.3 763.5h0M419.3 762.8h0M429.9 763.9h0M439.2 762h0M438.1 762.6h0M443.2 763.3h0M447.3 762.7h0M445.9 762.2h0M403.3 768.7h0M416.6 767.2h0M417.8 769.7h0M428.2 767.2h0M390.1 770.2h0M388.4 770.9h0M388.6 770.9h0M394.1 772.8h0M409 773.7h0M432.7 773.8h0M438.2 773.1h0M439 773.2h0M446.2 771.2h0M392.3 777.8h0M395.7 774.9h0M400.2 775.3h0M404.5 777.6h0M414.4 776h0M419.6 777.9h0M416.8 775.8h0M416.5 774.8h0M423.3 774.3h0M434.4 775.9h0M447.2 776h0M397.5 779.6h0M398.9 781.8h0M418.7 780.5h0M417.3 781.7h0M424.6 779.1h0M430.4 778.8h0M393.3 784.2h0M395.3 784h0M392.6 784h0M403 785.5h0M412 782.6h0M413.7 784.5h0M417.6 783.6h0M426.9 783.7h0M429.7 782.2h0M437.5 783.4h0M437 782.4h0M404.7 789h0M404.9 788.8h0M405 786.8h0M419.3 786.7h0M428.6 786.5h0M436.5 789.3h0M404.5 793.5h0M419.7 790.5h0M417.3 793h0M429.6 790.9h0M429.1 792.6h0M433.3 790.8h0M435.6 791.6h0M433 790.4h0M393.7 797.3h0M395.2 795h0M419.7 795.2h0M426.1 795.9h0M434 797.1h0M434.6 796h0M440.8 794.3h0M445.1 795.6h0M394.4 801.3h0M394.3 798.7h0M401.7 801.3h0M409.5 798.4h0M409.5 801.1h0M416.2 800.8h0M419.6 798.8h0M439.8 799.8h0M446.7 800.2h0M447.1 800.4h0M399.6 804.7h0M411.9 805h0M415.4 802.7h0M419 802.1h0M419.9 803.3h0M423 803.7h0M422.2 804.1h0M428.4 804.6h0M433.6 805.9h0M445.8 805.5h0M401.4 808.8h0M406.7 808.2h0M411 806.9h0M410.4 807.3h0M415.9 806.1h0M414.4 809.8h0M414.3 810h0M417.3 808.7h0M434.3 808h0M433 807h0M438.9 807.3h0M442.1 807.4h0M444.4 807.7h0M396.8 812.4h0M399.6 810.9h0M406.3 812.1h0M413.9 811.2h0M412.8 811.6h0M417 811.9h0M419.7 813.7h0M417.5 813.8h0M417.4 811.8h0M418.8 811.3h0M427.8 813.2h0M424.2 812.9h0M434.7 812.6h0M438.5 812.9h0M437.5 810h0M443.6 810.8h0M403.1 815.9h0M423 815h0M421.8 815.8h0M431.9 815.4h0M428.5 815.9h0M431.9 814.6h0M433.3 817.1h0M440.3 815.5h0M442.4 815.2h0M445.4 815.1h0M399.4 821.8h0M403.1 821.8h0M402.1 820.2h0M404.2 820.2h0M409.6 818h0M418.7 819.9h0M421.7 821h0M420.6 820.5h0M428.5 819.7h0M428.8 818.8h0M432.6 820.2h0M435 820.7h0M434.1 819.6h0M442.6 818.3h0M396.3 823h0M397.4 823.2h0M401.3 825.8h0M401.7 824.9h0M404.8 825.5h0M406.7 823h0M413.3 824.3h0M415.4 822.7h0M419 823.9h0M430.6 822.3h0M435.6 823.9h0M434 825.8h0M435.9 825.5h0M441.8 822.5h0M441.1 825.5h0M444.6 825.1h0M401.5 828.8h0M402.2 826.6h0M405.6 830h0M404.4 829.5h0M411 828.6h0M410.3 826.2h0M422.4 829h0M422.7 827.9h0M429.1 828.7h0M435.7 826.1h0M436.7 829h0M439.3 828.8h0M402.8 831h0M411.4 832.5h0M409.3 831.3h0M417.1 833.1h0M417.8 831h0M417.9 833.1h0M428.5 831.7h0M429.9 830h0M434.7 830.1h0M433.6 831.4h0M436.7 830.9h0M437.7 832.6h0M443.5 832.9h0M445.8 830.4h0M402.5 835.9h0M407.9 837.1h0M410.3 835.2h0M409.8 835.8h0M410.6 835.7h0M415.7 835.2h0M413.3 837.5h0M425.8 837h0M425.3 835.9h0M432.4 836.2h0M434.5 836.8h0M432.3 835.3h0M432.1 834h0M436.7 836.2h0M437.9 837.9h0M441.5 836.5h0M441.5 836h0M444.6 834.4h0M407.5 841.2h0M407.7 839.9h0M411.1 839.3h0M410.5 840.3h0M421.6 841.7h0M427.9 841.2h0M425 841h0M429.6 839.3h0M431.7 839.3h0M436.5 841.2h0M405.2 843h0M410.3 844.3h0M415.7 845.9h0M419.9 844.9h0M420.1 842.5h0M427.4 842.7h0M431.6 842.5h0M439.6 842.4h0M442.7 845.9h0M441 843.2h0M447.7 843.9h0M403.5 847.1h0M406.9 847.8h0M404.4 848.7h0M409.8 848h0M412.3 850h0M419.4 846h0M420.5 846.2h0M431.5 849.1h0M428.1 846.7h0M435.9 847.2h0M446 847.3h0M444.2 848.5h0M414.7 852.3h0M413.8 853.3h0M413.3 853.8h0M416.8 851.1h0M422.8 853.2h0M427.4 850.6h0M426 850.7h0M429.1 853.6h0M434.1 852.9h0M435.9 853.9h0M435.6 853.3h0M437.2 853.5h0M440.5 852.7h0M445.3 850.6h0M447.7 853.5h0M444.6 853h0M410.7 854.9h0M418.1 856.6h0M420.5 856.3h0M426 857.6h0M427.4 857.5h0M424.8 857.4h0M445.8 857.9h0M406.1 858.4h0M407 861.9h0M413.6 861.5h0M419.1 861.4h0M420.9 859.4h0M422 858.2h0M430 859h0M428.4 861.4h0M436 861h0M437 860.2h0M445.4 860.4h0M406.6 864.3h0M407.6 865.8h0M409.7 865.7h0M420.3 863.1h0M425.9 864.3h0M432.9 862.8h0M433.9 862.4h0M440.4 863.2h0M447.3 864.8h0M404.2 870h0M406.3 867.4h0M414.4 869.5h0M414.1 869.4h0M419.3 868h0M422.1 868h0M420.4 869.2h0M426.8 868.9h0M428.8 869.9h0M428.9 866.4h0M433.8 867.4h0M433.2 867.2h0M439.9 869.7h0M443.1 868.6h0M446.5 869.2h0M404.6 873.4h0M411.3 873.9h0M415.4 873.5h0M418 873.7h0M418.5 873h0M420.4 871.6h0M438.2 872.5h0M440 870.2h0M446.6 874h0M407.6 877.5h0M407.8 878h0M409.4 874.3h0M414.1 875.2h0M415 876.7h0M416 874.1h0M427.7 876.2h0M427.2 874.3h0M428.9 876.8h0M445.7 874.4h0M406.4 881.1h0M411.1 878h0M412.6 881.6h0M435 878.4h0M440.6 881.9h0M447.6 880.9h0M447.9 880.8h0M447.6 878.2h0M446.3 878.7h0M406.2 883h0M408.6 882.1h0M408 884.3h0M410.5 882.6h0M420.6 882.2h0M422.6 882.3h0M424.8 883.5h0M426.9 885.5h0M426.1 883.3h0M424.8 885.8h0M431.7 885.3h0M428 882.4h0M434.3 883.7h0M438.6 884.4h0M443.2 882.6h0M447.7 885.9h0M404.4 889.3h0M412.8 886.3h0M417.8 887.7h0M424 887.8h0M430 889h0M407.9 891.6h0M407 892.4h0M411.9 893.2h0M408.4 892.6h0M415 893.7h0M419.8 892.9h0M423.3 890.2h0M423.2 893.7h0M422.9 892.1h0M427.7 893.4h0M430.1 893.6h0M437.1 892.4h0M437.9 892.8h0M444.3 892.1h0M444.1 890.1h0M411.7 896.3h0M412.2 894.4h0M415.2 897.6h0M416.6 896.3h0M419.6 897.3h0M419.3 894.6h0M419 895.5h0M432 895.9h0M434.6 894.1h0M439.4 895.9h0M442 894.1h0M447.6 897h0M405.2 898.8h0M409.6 899.5h0M416 899.6h0M418.6 899h0M426.1 901.2h0M429 901h0M442.5 899.6h0M446.2 901.8h0M444.6 900.2h0M445 900.2h0M405.7 905.2h0M406.2 902.8h0M411.3 904.8h0M421.6 904.8h0M423.6 902.6h0M422.6 904.3h0M429.4 902.6h0M429.6 905.5h0M430.4 906h0M433 905.6h0M438.3 902.4h0M443.8 902.9h0M446.8 903.1h0" stroke="#377eb8" stroke-width="10.2" stroke-linecap="round" fill="none"/>
<line x1="165.8" y1="93.5" x2="165.8" y2="933.5" stroke="#000" stroke-width="2.5"/>
<line x1="165.8" y1="918.8" x2="956.8" y2="918.8" stroke="#000" stroke-width="2.5"/>
<line x1="148.3" y1="781.8" x2="165.8" y2="781.8" stroke="#000" stroke-width="2.5"/>
<line x1="148.3" y1="647.4" x2="165.8" y2="647.4" stroke="#000" stroke-width="2.5"/>
<line x1="148.3" y1="513.1" x2="165.8" y2="513.1" stroke="#000" stroke-width="2.5"/>
<line x1="148.3" y1="378.8" x2="165.8" y2="378.8" stroke="#000" stroke-width="2.5"/>
<line x1="148.3" y1="244.5" x2="165.8" y2="244.5" stroke="#000" stroke-width="2.5"/>
<line x1="148.3" y1="110.2" x2="165.8" y2="110.2" stroke="#000" stroke-width="2.5"/>
<line x1="148.3" y1="93.5" x2="165.8" y2="93.5" stroke="#000" stroke-width="2.5"/>
<line x1="148.3" y1="916.05" x2="165.8" y2="916.05" stroke="#000" stroke-width="2.5"/>
<line x1="148.3" y1="918.8" x2="165.8" y2="918.8" stroke="#000" stroke-width="2.5"/>
<line x1="281.1" y1="918.8" x2="281.1" y2="933.5" stroke="#000" stroke-width="2.5"/>
<line x1="421.1" y1="918.8" x2="421.1" y2="933.5" stroke="#000" stroke-width="2.5"/>
<line x1="561.1" y1="918.8" x2="561.1" y2="933.5" stroke="#000" stroke-width="2.5"/>
<line x1="701.1" y1="918.8" x2="701.1" y2="933.5" stroke="#000" stroke-width="2.5"/>
<line x1="841.1" y1="918.8" x2="841.1" y2="933.5" stroke="#000" stroke-width="2.5"/>
<line x1="956.8" y1="918.8" x2="956.8" y2="933.5" stroke="#000" stroke-width="2.5"/>
<text x="141.3" y="926.8" text-anchor="end" class="t">0</text>
<text x="141.3" y="792.5" text-anchor="end" class="t">50</text>
<text x="141.3" y="658.1" text-anchor="end" class="t">100</text>
<text x="141.3" y="523.9" text-anchor="end" class="t">150</text>
<text x="141.3" y="389.5" text-anchor="end" class="t">200</text>
<text x="141.3" y="255.2" text-anchor="end" class="t">250</text>
<text x="141.3" y="121.0" text-anchor="end" class="t">300</text>
<text x="281.1" y="964.6" text-anchor="middle" class="t">-10</text>
<text x="421.1" y="964.6" text-anchor="middle" class="t">-5</text>
<text x="561.1" y="964.6" text-anchor="middle" class="t">0</text>
<text x="701.1" y="964.6" text-anchor="middle" class="t">5</text>
<text x="841.1" y="964.6" text-anchor="middle" class="t">10</text>
<text x="559.2" y="1024.3" text-anchor="middle" class="tt">log2(FoldChange)</text>
<text transform="translate(33.8,487) rotate(-90)" text-anchor="middle" class="tt">-log10(Significance)</text>
<rect x="272.5" y="3.4" width="37.5" height="37.5" fill="#377eb8"/>
<text x="331" y="40.5" class="lg">Fmale</text>
<rect x="846" y="5.2" width="37" height="36.5" fill="#e41a1c"/>
<text x="718" y="39.7" class="lg">Male</text>
</svg>
</body></html>
